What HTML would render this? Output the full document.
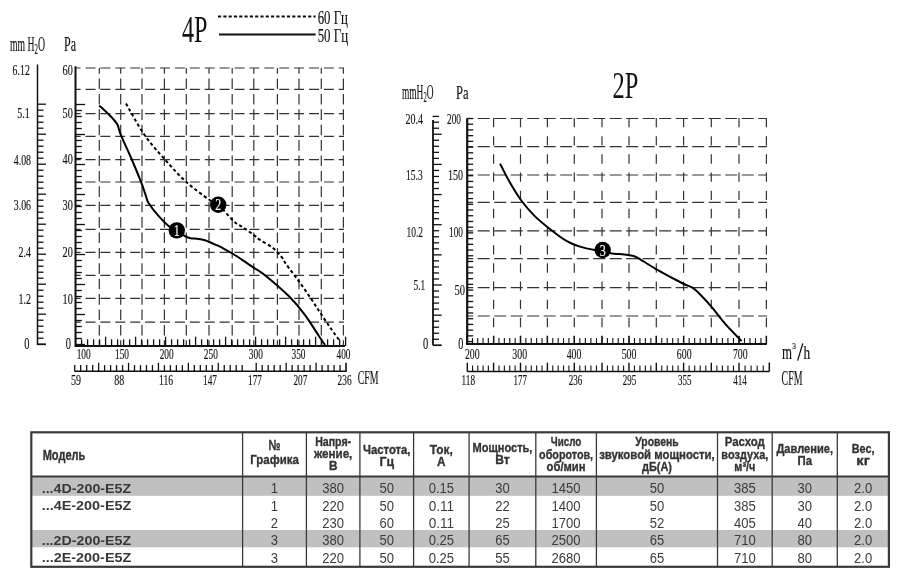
<!DOCTYPE html><html><head><meta charset="utf-8"><style>html,body{margin:0;padding:0;width:900px;height:572px;overflow:hidden;background:#fff}</style></head><body><svg width="900" height="572" viewBox="0 0 900 572" style="position:absolute;left:0;top:0;will-change:transform">
<rect width="900" height="572" fill="#fff"/>
<text x="182.00" y="41.80" font-family='"Liberation Serif", serif' font-weight="normal" font-size="38.07" fill="#111" textLength="25.50" lengthAdjust="spacingAndGlyphs">4P</text>
<line x1="218.00" y1="16.50" x2="315.60" y2="16.50" stroke="#111" stroke-width="1.8" stroke-dasharray="3.2 2.1" stroke-linecap="butt"/>
<line x1="219.00" y1="34.40" x2="315.60" y2="34.40" stroke="#111" stroke-width="2" stroke-linecap="butt"/>
<text x="317.70" y="23.60" font-family='"Liberation Serif", serif' font-weight="normal" font-size="18.13" fill="#111" textLength="30.30" lengthAdjust="spacingAndGlyphs" stroke="#111" stroke-width="0.15">60 Гц</text>
<text x="317.70" y="42.20" font-family='"Liberation Serif", serif' font-weight="normal" font-size="19.18" fill="#111" textLength="30.30" lengthAdjust="spacingAndGlyphs" stroke="#111" stroke-width="0.15">50 Гц</text>
<text x="10" y="50.5" font-family='"Liberation Serif", serif' font-size="20" fill="#111" textLength="35" lengthAdjust="spacingAndGlyphs" stroke="#111" stroke-width="0.15">mm H<tspan font-size="14" dy="3.5">2</tspan><tspan dy="-3.5">O</tspan></text>
<text x="64.00" y="50.50" font-family='"Liberation Serif", serif' font-weight="normal" font-size="20.39" fill="#111" textLength="12.00" lengthAdjust="spacingAndGlyphs" stroke="#111" stroke-width="0.15">Pa</text>
<line x1="75.50" y1="68.00" x2="344.00" y2="68.00" stroke="#333" stroke-width="1.2" stroke-dasharray="10 4.9" stroke-dashoffset="4.9" stroke-linecap="butt"/>
<line x1="75.50" y1="89.30" x2="344.00" y2="89.30" stroke="#333" stroke-width="1.2" stroke-dasharray="10 4.9" stroke-dashoffset="4.9" stroke-linecap="butt"/>
<line x1="75.50" y1="113.60" x2="344.00" y2="113.60" stroke="#333" stroke-width="1.2" stroke-dasharray="10 4.9" stroke-dashoffset="4.9" stroke-linecap="butt"/>
<line x1="75.50" y1="136.40" x2="344.00" y2="136.40" stroke="#333" stroke-width="1.2" stroke-dasharray="10 4.9" stroke-dashoffset="4.9" stroke-linecap="butt"/>
<line x1="75.50" y1="159.70" x2="344.00" y2="159.70" stroke="#333" stroke-width="1.2" stroke-dasharray="10 4.9" stroke-dashoffset="4.9" stroke-linecap="butt"/>
<line x1="75.50" y1="182.00" x2="344.00" y2="182.00" stroke="#333" stroke-width="1.2" stroke-dasharray="10 4.9" stroke-dashoffset="4.9" stroke-linecap="butt"/>
<line x1="75.50" y1="205.30" x2="344.00" y2="205.30" stroke="#333" stroke-width="1.2" stroke-dasharray="10 4.9" stroke-dashoffset="4.9" stroke-linecap="butt"/>
<line x1="75.50" y1="229.30" x2="344.00" y2="229.30" stroke="#333" stroke-width="1.2" stroke-dasharray="10 4.9" stroke-dashoffset="4.9" stroke-linecap="butt"/>
<line x1="75.50" y1="252.30" x2="344.00" y2="252.30" stroke="#333" stroke-width="1.2" stroke-dasharray="10 4.9" stroke-dashoffset="4.9" stroke-linecap="butt"/>
<line x1="75.50" y1="275.30" x2="344.00" y2="275.30" stroke="#333" stroke-width="1.2" stroke-dasharray="10 4.9" stroke-dashoffset="4.9" stroke-linecap="butt"/>
<line x1="75.50" y1="298.40" x2="344.00" y2="298.40" stroke="#333" stroke-width="1.2" stroke-dasharray="10 4.9" stroke-dashoffset="4.9" stroke-linecap="butt"/>
<line x1="75.50" y1="322.20" x2="344.00" y2="322.20" stroke="#333" stroke-width="1.2" stroke-dasharray="10 4.9" stroke-dashoffset="4.9" stroke-linecap="butt"/>
<line x1="99.30" y1="68.00" x2="99.30" y2="346.00" stroke="#333" stroke-width="1.2" stroke-dasharray="10.6 4.8" stroke-dashoffset="4.9" stroke-linecap="butt"/>
<line x1="120.70" y1="68.00" x2="120.70" y2="346.00" stroke="#333" stroke-width="1.2" stroke-dasharray="10.6 4.8" stroke-dashoffset="4.9" stroke-linecap="butt"/>
<line x1="142.00" y1="68.00" x2="142.00" y2="346.00" stroke="#333" stroke-width="1.2" stroke-dasharray="10.6 4.8" stroke-dashoffset="4.9" stroke-linecap="butt"/>
<line x1="164.40" y1="68.00" x2="164.40" y2="346.00" stroke="#333" stroke-width="1.2" stroke-dasharray="10.6 4.8" stroke-dashoffset="4.9" stroke-linecap="butt"/>
<line x1="186.30" y1="68.00" x2="186.30" y2="346.00" stroke="#333" stroke-width="1.2" stroke-dasharray="10.6 4.8" stroke-dashoffset="4.9" stroke-linecap="butt"/>
<line x1="209.00" y1="68.00" x2="209.00" y2="346.00" stroke="#333" stroke-width="1.2" stroke-dasharray="10.6 4.8" stroke-dashoffset="4.9" stroke-linecap="butt"/>
<line x1="232.20" y1="68.00" x2="232.20" y2="346.00" stroke="#333" stroke-width="1.2" stroke-dasharray="10.6 4.8" stroke-dashoffset="4.9" stroke-linecap="butt"/>
<line x1="253.80" y1="68.00" x2="253.80" y2="346.00" stroke="#333" stroke-width="1.2" stroke-dasharray="10.6 4.8" stroke-dashoffset="4.9" stroke-linecap="butt"/>
<line x1="277.40" y1="68.00" x2="277.40" y2="346.00" stroke="#333" stroke-width="1.2" stroke-dasharray="10.6 4.8" stroke-dashoffset="4.9" stroke-linecap="butt"/>
<line x1="299.00" y1="68.00" x2="299.00" y2="346.00" stroke="#333" stroke-width="1.2" stroke-dasharray="10.6 4.8" stroke-dashoffset="4.9" stroke-linecap="butt"/>
<line x1="321.30" y1="68.00" x2="321.30" y2="346.00" stroke="#333" stroke-width="1.2" stroke-dasharray="10.6 4.8" stroke-dashoffset="4.9" stroke-linecap="butt"/>
<line x1="343.40" y1="68.00" x2="343.40" y2="346.00" stroke="#333" stroke-width="1.2" stroke-dasharray="10.6 4.8" stroke-dashoffset="4.9" stroke-linecap="butt"/>
<line x1="75.50" y1="66.30" x2="75.50" y2="347.00" stroke="#111" stroke-width="2" stroke-linecap="butt"/>
<line x1="75.50" y1="104.50" x2="85.00" y2="104.50" stroke="#111" stroke-width="1.3" stroke-linecap="butt"/>
<line x1="75.50" y1="110.50" x2="81.80" y2="110.50" stroke="#111" stroke-width="1.3" stroke-linecap="butt"/>
<line x1="75.50" y1="116.50" x2="81.80" y2="116.50" stroke="#111" stroke-width="1.3" stroke-linecap="butt"/>
<line x1="75.50" y1="122.50" x2="81.80" y2="122.50" stroke="#111" stroke-width="1.3" stroke-linecap="butt"/>
<line x1="75.50" y1="128.50" x2="81.80" y2="128.50" stroke="#111" stroke-width="1.3" stroke-linecap="butt"/>
<line x1="75.50" y1="134.50" x2="85.00" y2="134.50" stroke="#111" stroke-width="1.3" stroke-linecap="butt"/>
<line x1="75.50" y1="140.50" x2="81.80" y2="140.50" stroke="#111" stroke-width="1.3" stroke-linecap="butt"/>
<line x1="75.50" y1="146.50" x2="81.80" y2="146.50" stroke="#111" stroke-width="1.3" stroke-linecap="butt"/>
<line x1="75.50" y1="152.50" x2="81.80" y2="152.50" stroke="#111" stroke-width="1.3" stroke-linecap="butt"/>
<line x1="75.50" y1="158.50" x2="81.80" y2="158.50" stroke="#111" stroke-width="1.3" stroke-linecap="butt"/>
<line x1="75.50" y1="164.50" x2="85.00" y2="164.50" stroke="#111" stroke-width="1.3" stroke-linecap="butt"/>
<line x1="75.50" y1="170.50" x2="81.80" y2="170.50" stroke="#111" stroke-width="1.3" stroke-linecap="butt"/>
<line x1="75.50" y1="176.50" x2="81.80" y2="176.50" stroke="#111" stroke-width="1.3" stroke-linecap="butt"/>
<line x1="75.50" y1="182.50" x2="81.80" y2="182.50" stroke="#111" stroke-width="1.3" stroke-linecap="butt"/>
<line x1="75.50" y1="188.50" x2="81.80" y2="188.50" stroke="#111" stroke-width="1.3" stroke-linecap="butt"/>
<line x1="75.50" y1="194.50" x2="85.00" y2="194.50" stroke="#111" stroke-width="1.3" stroke-linecap="butt"/>
<line x1="75.50" y1="200.50" x2="81.80" y2="200.50" stroke="#111" stroke-width="1.3" stroke-linecap="butt"/>
<line x1="75.50" y1="206.50" x2="81.80" y2="206.50" stroke="#111" stroke-width="1.3" stroke-linecap="butt"/>
<line x1="75.50" y1="212.50" x2="81.80" y2="212.50" stroke="#111" stroke-width="1.3" stroke-linecap="butt"/>
<line x1="75.50" y1="218.50" x2="81.80" y2="218.50" stroke="#111" stroke-width="1.3" stroke-linecap="butt"/>
<line x1="75.50" y1="224.50" x2="85.00" y2="224.50" stroke="#111" stroke-width="1.3" stroke-linecap="butt"/>
<line x1="75.50" y1="230.50" x2="81.80" y2="230.50" stroke="#111" stroke-width="1.3" stroke-linecap="butt"/>
<line x1="75.50" y1="236.50" x2="81.80" y2="236.50" stroke="#111" stroke-width="1.3" stroke-linecap="butt"/>
<line x1="75.50" y1="242.50" x2="81.80" y2="242.50" stroke="#111" stroke-width="1.3" stroke-linecap="butt"/>
<line x1="75.50" y1="248.50" x2="81.80" y2="248.50" stroke="#111" stroke-width="1.3" stroke-linecap="butt"/>
<line x1="75.50" y1="254.50" x2="85.00" y2="254.50" stroke="#111" stroke-width="1.3" stroke-linecap="butt"/>
<line x1="75.50" y1="260.50" x2="81.80" y2="260.50" stroke="#111" stroke-width="1.3" stroke-linecap="butt"/>
<line x1="75.50" y1="266.50" x2="81.80" y2="266.50" stroke="#111" stroke-width="1.3" stroke-linecap="butt"/>
<line x1="75.50" y1="272.50" x2="81.80" y2="272.50" stroke="#111" stroke-width="1.3" stroke-linecap="butt"/>
<line x1="75.50" y1="278.50" x2="81.80" y2="278.50" stroke="#111" stroke-width="1.3" stroke-linecap="butt"/>
<line x1="75.50" y1="284.50" x2="85.00" y2="284.50" stroke="#111" stroke-width="1.3" stroke-linecap="butt"/>
<line x1="75.50" y1="290.50" x2="81.80" y2="290.50" stroke="#111" stroke-width="1.3" stroke-linecap="butt"/>
<line x1="75.50" y1="296.50" x2="81.80" y2="296.50" stroke="#111" stroke-width="1.3" stroke-linecap="butt"/>
<line x1="75.50" y1="302.50" x2="81.80" y2="302.50" stroke="#111" stroke-width="1.3" stroke-linecap="butt"/>
<line x1="75.50" y1="308.50" x2="81.80" y2="308.50" stroke="#111" stroke-width="1.3" stroke-linecap="butt"/>
<line x1="75.50" y1="314.50" x2="85.00" y2="314.50" stroke="#111" stroke-width="1.3" stroke-linecap="butt"/>
<line x1="75.50" y1="320.50" x2="81.80" y2="320.50" stroke="#111" stroke-width="1.3" stroke-linecap="butt"/>
<line x1="75.50" y1="326.50" x2="81.80" y2="326.50" stroke="#111" stroke-width="1.3" stroke-linecap="butt"/>
<line x1="75.50" y1="332.50" x2="81.80" y2="332.50" stroke="#111" stroke-width="1.3" stroke-linecap="butt"/>
<line x1="75.50" y1="338.50" x2="81.80" y2="338.50" stroke="#111" stroke-width="1.3" stroke-linecap="butt"/>
<line x1="75.50" y1="344.50" x2="85.00" y2="344.50" stroke="#111" stroke-width="1.3" stroke-linecap="butt"/>
<line x1="37.50" y1="64.50" x2="37.50" y2="345.00" stroke="#111" stroke-width="1.5" stroke-linecap="butt"/>
<line x1="37.50" y1="104.20" x2="46.00" y2="104.20" stroke="#111" stroke-width="1.3" stroke-linecap="butt"/>
<line x1="37.50" y1="110.20" x2="43.50" y2="110.20" stroke="#111" stroke-width="1.3" stroke-linecap="butt"/>
<line x1="37.50" y1="116.20" x2="43.50" y2="116.20" stroke="#111" stroke-width="1.3" stroke-linecap="butt"/>
<line x1="37.50" y1="122.20" x2="43.50" y2="122.20" stroke="#111" stroke-width="1.3" stroke-linecap="butt"/>
<line x1="37.50" y1="128.20" x2="43.50" y2="128.20" stroke="#111" stroke-width="1.3" stroke-linecap="butt"/>
<line x1="37.50" y1="134.20" x2="46.00" y2="134.20" stroke="#111" stroke-width="1.3" stroke-linecap="butt"/>
<line x1="37.50" y1="140.20" x2="43.50" y2="140.20" stroke="#111" stroke-width="1.3" stroke-linecap="butt"/>
<line x1="37.50" y1="146.20" x2="43.50" y2="146.20" stroke="#111" stroke-width="1.3" stroke-linecap="butt"/>
<line x1="37.50" y1="152.20" x2="43.50" y2="152.20" stroke="#111" stroke-width="1.3" stroke-linecap="butt"/>
<line x1="37.50" y1="158.20" x2="43.50" y2="158.20" stroke="#111" stroke-width="1.3" stroke-linecap="butt"/>
<line x1="37.50" y1="164.20" x2="46.00" y2="164.20" stroke="#111" stroke-width="1.3" stroke-linecap="butt"/>
<line x1="37.50" y1="170.20" x2="43.50" y2="170.20" stroke="#111" stroke-width="1.3" stroke-linecap="butt"/>
<line x1="37.50" y1="176.20" x2="43.50" y2="176.20" stroke="#111" stroke-width="1.3" stroke-linecap="butt"/>
<line x1="37.50" y1="182.20" x2="43.50" y2="182.20" stroke="#111" stroke-width="1.3" stroke-linecap="butt"/>
<line x1="37.50" y1="188.20" x2="43.50" y2="188.20" stroke="#111" stroke-width="1.3" stroke-linecap="butt"/>
<line x1="37.50" y1="194.20" x2="46.00" y2="194.20" stroke="#111" stroke-width="1.3" stroke-linecap="butt"/>
<line x1="37.50" y1="200.20" x2="43.50" y2="200.20" stroke="#111" stroke-width="1.3" stroke-linecap="butt"/>
<line x1="37.50" y1="206.20" x2="43.50" y2="206.20" stroke="#111" stroke-width="1.3" stroke-linecap="butt"/>
<line x1="37.50" y1="212.20" x2="43.50" y2="212.20" stroke="#111" stroke-width="1.3" stroke-linecap="butt"/>
<line x1="37.50" y1="218.20" x2="43.50" y2="218.20" stroke="#111" stroke-width="1.3" stroke-linecap="butt"/>
<line x1="37.50" y1="224.20" x2="46.00" y2="224.20" stroke="#111" stroke-width="1.3" stroke-linecap="butt"/>
<line x1="37.50" y1="230.20" x2="43.50" y2="230.20" stroke="#111" stroke-width="1.3" stroke-linecap="butt"/>
<line x1="37.50" y1="236.20" x2="43.50" y2="236.20" stroke="#111" stroke-width="1.3" stroke-linecap="butt"/>
<line x1="37.50" y1="242.20" x2="43.50" y2="242.20" stroke="#111" stroke-width="1.3" stroke-linecap="butt"/>
<line x1="37.50" y1="248.20" x2="43.50" y2="248.20" stroke="#111" stroke-width="1.3" stroke-linecap="butt"/>
<line x1="37.50" y1="254.20" x2="46.00" y2="254.20" stroke="#111" stroke-width="1.3" stroke-linecap="butt"/>
<line x1="37.50" y1="260.20" x2="43.50" y2="260.20" stroke="#111" stroke-width="1.3" stroke-linecap="butt"/>
<line x1="37.50" y1="266.20" x2="43.50" y2="266.20" stroke="#111" stroke-width="1.3" stroke-linecap="butt"/>
<line x1="37.50" y1="272.20" x2="43.50" y2="272.20" stroke="#111" stroke-width="1.3" stroke-linecap="butt"/>
<line x1="37.50" y1="278.20" x2="43.50" y2="278.20" stroke="#111" stroke-width="1.3" stroke-linecap="butt"/>
<line x1="37.50" y1="284.20" x2="46.00" y2="284.20" stroke="#111" stroke-width="1.3" stroke-linecap="butt"/>
<line x1="37.50" y1="290.20" x2="43.50" y2="290.20" stroke="#111" stroke-width="1.3" stroke-linecap="butt"/>
<line x1="37.50" y1="296.20" x2="43.50" y2="296.20" stroke="#111" stroke-width="1.3" stroke-linecap="butt"/>
<line x1="37.50" y1="302.20" x2="43.50" y2="302.20" stroke="#111" stroke-width="1.3" stroke-linecap="butt"/>
<line x1="37.50" y1="308.20" x2="43.50" y2="308.20" stroke="#111" stroke-width="1.3" stroke-linecap="butt"/>
<line x1="37.50" y1="314.20" x2="46.00" y2="314.20" stroke="#111" stroke-width="1.3" stroke-linecap="butt"/>
<line x1="37.50" y1="320.20" x2="43.50" y2="320.20" stroke="#111" stroke-width="1.3" stroke-linecap="butt"/>
<line x1="37.50" y1="326.20" x2="43.50" y2="326.20" stroke="#111" stroke-width="1.3" stroke-linecap="butt"/>
<line x1="37.50" y1="332.20" x2="43.50" y2="332.20" stroke="#111" stroke-width="1.3" stroke-linecap="butt"/>
<line x1="37.50" y1="338.20" x2="43.50" y2="338.20" stroke="#111" stroke-width="1.3" stroke-linecap="butt"/>
<line x1="37.50" y1="344.20" x2="46.00" y2="344.20" stroke="#111" stroke-width="1.3" stroke-linecap="butt"/>
<line x1="37.50" y1="344.40" x2="45.70" y2="344.40" stroke="#111" stroke-width="1.5" stroke-linecap="butt"/>
<line x1="75.00" y1="346.00" x2="345.00" y2="346.00" stroke="#111" stroke-width="2" stroke-linecap="butt"/>
<line x1="75.60" y1="346.00" x2="75.60" y2="336.70" stroke="#111" stroke-width="1.3" stroke-linecap="butt"/>
<line x1="81.60" y1="346.00" x2="81.60" y2="339.30" stroke="#111" stroke-width="1.3" stroke-linecap="butt"/>
<line x1="87.60" y1="346.00" x2="87.60" y2="339.30" stroke="#111" stroke-width="1.3" stroke-linecap="butt"/>
<line x1="93.60" y1="346.00" x2="93.60" y2="339.30" stroke="#111" stroke-width="1.3" stroke-linecap="butt"/>
<line x1="99.60" y1="346.00" x2="99.60" y2="339.30" stroke="#111" stroke-width="1.3" stroke-linecap="butt"/>
<line x1="105.60" y1="346.00" x2="105.60" y2="336.70" stroke="#111" stroke-width="1.3" stroke-linecap="butt"/>
<line x1="111.60" y1="346.00" x2="111.60" y2="339.30" stroke="#111" stroke-width="1.3" stroke-linecap="butt"/>
<line x1="117.60" y1="346.00" x2="117.60" y2="339.30" stroke="#111" stroke-width="1.3" stroke-linecap="butt"/>
<line x1="123.60" y1="346.00" x2="123.60" y2="339.30" stroke="#111" stroke-width="1.3" stroke-linecap="butt"/>
<line x1="129.60" y1="346.00" x2="129.60" y2="339.30" stroke="#111" stroke-width="1.3" stroke-linecap="butt"/>
<line x1="135.60" y1="346.00" x2="135.60" y2="336.70" stroke="#111" stroke-width="1.3" stroke-linecap="butt"/>
<line x1="141.60" y1="346.00" x2="141.60" y2="339.30" stroke="#111" stroke-width="1.3" stroke-linecap="butt"/>
<line x1="147.60" y1="346.00" x2="147.60" y2="339.30" stroke="#111" stroke-width="1.3" stroke-linecap="butt"/>
<line x1="153.60" y1="346.00" x2="153.60" y2="339.30" stroke="#111" stroke-width="1.3" stroke-linecap="butt"/>
<line x1="159.60" y1="346.00" x2="159.60" y2="339.30" stroke="#111" stroke-width="1.3" stroke-linecap="butt"/>
<line x1="165.60" y1="346.00" x2="165.60" y2="336.70" stroke="#111" stroke-width="1.3" stroke-linecap="butt"/>
<line x1="171.60" y1="346.00" x2="171.60" y2="339.30" stroke="#111" stroke-width="1.3" stroke-linecap="butt"/>
<line x1="177.60" y1="346.00" x2="177.60" y2="339.30" stroke="#111" stroke-width="1.3" stroke-linecap="butt"/>
<line x1="183.60" y1="346.00" x2="183.60" y2="339.30" stroke="#111" stroke-width="1.3" stroke-linecap="butt"/>
<line x1="189.60" y1="346.00" x2="189.60" y2="339.30" stroke="#111" stroke-width="1.3" stroke-linecap="butt"/>
<line x1="195.60" y1="346.00" x2="195.60" y2="336.70" stroke="#111" stroke-width="1.3" stroke-linecap="butt"/>
<line x1="201.60" y1="346.00" x2="201.60" y2="339.30" stroke="#111" stroke-width="1.3" stroke-linecap="butt"/>
<line x1="207.60" y1="346.00" x2="207.60" y2="339.30" stroke="#111" stroke-width="1.3" stroke-linecap="butt"/>
<line x1="213.60" y1="346.00" x2="213.60" y2="339.30" stroke="#111" stroke-width="1.3" stroke-linecap="butt"/>
<line x1="219.60" y1="346.00" x2="219.60" y2="339.30" stroke="#111" stroke-width="1.3" stroke-linecap="butt"/>
<line x1="225.60" y1="346.00" x2="225.60" y2="336.70" stroke="#111" stroke-width="1.3" stroke-linecap="butt"/>
<line x1="231.60" y1="346.00" x2="231.60" y2="339.30" stroke="#111" stroke-width="1.3" stroke-linecap="butt"/>
<line x1="237.60" y1="346.00" x2="237.60" y2="339.30" stroke="#111" stroke-width="1.3" stroke-linecap="butt"/>
<line x1="243.60" y1="346.00" x2="243.60" y2="339.30" stroke="#111" stroke-width="1.3" stroke-linecap="butt"/>
<line x1="249.60" y1="346.00" x2="249.60" y2="339.30" stroke="#111" stroke-width="1.3" stroke-linecap="butt"/>
<line x1="255.60" y1="346.00" x2="255.60" y2="336.70" stroke="#111" stroke-width="1.3" stroke-linecap="butt"/>
<line x1="261.60" y1="346.00" x2="261.60" y2="339.30" stroke="#111" stroke-width="1.3" stroke-linecap="butt"/>
<line x1="267.60" y1="346.00" x2="267.60" y2="339.30" stroke="#111" stroke-width="1.3" stroke-linecap="butt"/>
<line x1="273.60" y1="346.00" x2="273.60" y2="339.30" stroke="#111" stroke-width="1.3" stroke-linecap="butt"/>
<line x1="279.60" y1="346.00" x2="279.60" y2="339.30" stroke="#111" stroke-width="1.3" stroke-linecap="butt"/>
<line x1="285.60" y1="346.00" x2="285.60" y2="336.70" stroke="#111" stroke-width="1.3" stroke-linecap="butt"/>
<line x1="291.60" y1="346.00" x2="291.60" y2="339.30" stroke="#111" stroke-width="1.3" stroke-linecap="butt"/>
<line x1="297.60" y1="346.00" x2="297.60" y2="339.30" stroke="#111" stroke-width="1.3" stroke-linecap="butt"/>
<line x1="303.60" y1="346.00" x2="303.60" y2="339.30" stroke="#111" stroke-width="1.3" stroke-linecap="butt"/>
<line x1="309.60" y1="346.00" x2="309.60" y2="339.30" stroke="#111" stroke-width="1.3" stroke-linecap="butt"/>
<line x1="315.60" y1="346.00" x2="315.60" y2="336.70" stroke="#111" stroke-width="1.3" stroke-linecap="butt"/>
<line x1="321.60" y1="346.00" x2="321.60" y2="339.30" stroke="#111" stroke-width="1.3" stroke-linecap="butt"/>
<line x1="327.60" y1="346.00" x2="327.60" y2="339.30" stroke="#111" stroke-width="1.3" stroke-linecap="butt"/>
<line x1="333.60" y1="346.00" x2="333.60" y2="339.30" stroke="#111" stroke-width="1.3" stroke-linecap="butt"/>
<line x1="339.60" y1="346.00" x2="339.60" y2="339.30" stroke="#111" stroke-width="1.3" stroke-linecap="butt"/>
<line x1="345.60" y1="346.00" x2="345.60" y2="336.70" stroke="#111" stroke-width="1.3" stroke-linecap="butt"/>
<line x1="74.50" y1="371.30" x2="346.70" y2="371.30" stroke="#111" stroke-width="1.6" stroke-linecap="butt"/>
<line x1="74.70" y1="371.30" x2="74.70" y2="365.10" stroke="#111" stroke-width="1.3" stroke-linecap="butt"/>
<line x1="80.68" y1="371.30" x2="80.68" y2="365.10" stroke="#111" stroke-width="1.3" stroke-linecap="butt"/>
<line x1="86.66" y1="371.30" x2="86.66" y2="365.10" stroke="#111" stroke-width="1.3" stroke-linecap="butt"/>
<line x1="92.65" y1="371.30" x2="92.65" y2="365.10" stroke="#111" stroke-width="1.3" stroke-linecap="butt"/>
<line x1="98.63" y1="371.30" x2="98.63" y2="362.80" stroke="#111" stroke-width="1.3" stroke-linecap="butt"/>
<line x1="104.61" y1="371.30" x2="104.61" y2="365.10" stroke="#111" stroke-width="1.3" stroke-linecap="butt"/>
<line x1="110.59" y1="371.30" x2="110.59" y2="365.10" stroke="#111" stroke-width="1.3" stroke-linecap="butt"/>
<line x1="116.57" y1="371.30" x2="116.57" y2="365.10" stroke="#111" stroke-width="1.3" stroke-linecap="butt"/>
<line x1="122.56" y1="371.30" x2="122.56" y2="365.10" stroke="#111" stroke-width="1.3" stroke-linecap="butt"/>
<line x1="128.54" y1="371.30" x2="128.54" y2="362.80" stroke="#111" stroke-width="1.3" stroke-linecap="butt"/>
<line x1="134.52" y1="371.30" x2="134.52" y2="365.10" stroke="#111" stroke-width="1.3" stroke-linecap="butt"/>
<line x1="140.50" y1="371.30" x2="140.50" y2="365.10" stroke="#111" stroke-width="1.3" stroke-linecap="butt"/>
<line x1="146.48" y1="371.30" x2="146.48" y2="365.10" stroke="#111" stroke-width="1.3" stroke-linecap="butt"/>
<line x1="152.47" y1="371.30" x2="152.47" y2="365.10" stroke="#111" stroke-width="1.3" stroke-linecap="butt"/>
<line x1="158.45" y1="371.30" x2="158.45" y2="362.80" stroke="#111" stroke-width="1.3" stroke-linecap="butt"/>
<line x1="164.43" y1="371.30" x2="164.43" y2="365.10" stroke="#111" stroke-width="1.3" stroke-linecap="butt"/>
<line x1="170.41" y1="371.30" x2="170.41" y2="365.10" stroke="#111" stroke-width="1.3" stroke-linecap="butt"/>
<line x1="176.39" y1="371.30" x2="176.39" y2="365.10" stroke="#111" stroke-width="1.3" stroke-linecap="butt"/>
<line x1="182.38" y1="371.30" x2="182.38" y2="365.10" stroke="#111" stroke-width="1.3" stroke-linecap="butt"/>
<line x1="188.36" y1="371.30" x2="188.36" y2="362.80" stroke="#111" stroke-width="1.3" stroke-linecap="butt"/>
<line x1="194.34" y1="371.30" x2="194.34" y2="365.10" stroke="#111" stroke-width="1.3" stroke-linecap="butt"/>
<line x1="200.32" y1="371.30" x2="200.32" y2="365.10" stroke="#111" stroke-width="1.3" stroke-linecap="butt"/>
<line x1="206.30" y1="371.30" x2="206.30" y2="365.10" stroke="#111" stroke-width="1.3" stroke-linecap="butt"/>
<line x1="212.29" y1="371.30" x2="212.29" y2="365.10" stroke="#111" stroke-width="1.3" stroke-linecap="butt"/>
<line x1="218.27" y1="371.30" x2="218.27" y2="362.80" stroke="#111" stroke-width="1.3" stroke-linecap="butt"/>
<line x1="224.25" y1="371.30" x2="224.25" y2="365.10" stroke="#111" stroke-width="1.3" stroke-linecap="butt"/>
<line x1="230.23" y1="371.30" x2="230.23" y2="365.10" stroke="#111" stroke-width="1.3" stroke-linecap="butt"/>
<line x1="236.21" y1="371.30" x2="236.21" y2="365.10" stroke="#111" stroke-width="1.3" stroke-linecap="butt"/>
<line x1="242.20" y1="371.30" x2="242.20" y2="365.10" stroke="#111" stroke-width="1.3" stroke-linecap="butt"/>
<line x1="256.20" y1="371.30" x2="256.20" y2="362.80" stroke="#111" stroke-width="1.3" stroke-linecap="butt"/>
<line x1="262.19" y1="371.30" x2="262.19" y2="365.10" stroke="#111" stroke-width="1.3" stroke-linecap="butt"/>
<line x1="268.18" y1="371.30" x2="268.18" y2="365.10" stroke="#111" stroke-width="1.3" stroke-linecap="butt"/>
<line x1="274.17" y1="371.30" x2="274.17" y2="365.10" stroke="#111" stroke-width="1.3" stroke-linecap="butt"/>
<line x1="280.16" y1="371.30" x2="280.16" y2="365.10" stroke="#111" stroke-width="1.3" stroke-linecap="butt"/>
<line x1="286.15" y1="371.30" x2="286.15" y2="362.80" stroke="#111" stroke-width="1.3" stroke-linecap="butt"/>
<line x1="292.14" y1="371.30" x2="292.14" y2="365.10" stroke="#111" stroke-width="1.3" stroke-linecap="butt"/>
<line x1="298.13" y1="371.30" x2="298.13" y2="365.10" stroke="#111" stroke-width="1.3" stroke-linecap="butt"/>
<line x1="304.12" y1="371.30" x2="304.12" y2="365.10" stroke="#111" stroke-width="1.3" stroke-linecap="butt"/>
<line x1="310.11" y1="371.30" x2="310.11" y2="365.10" stroke="#111" stroke-width="1.3" stroke-linecap="butt"/>
<line x1="316.10" y1="371.30" x2="316.10" y2="362.80" stroke="#111" stroke-width="1.3" stroke-linecap="butt"/>
<line x1="322.09" y1="371.30" x2="322.09" y2="365.10" stroke="#111" stroke-width="1.3" stroke-linecap="butt"/>
<line x1="328.08" y1="371.30" x2="328.08" y2="365.10" stroke="#111" stroke-width="1.3" stroke-linecap="butt"/>
<line x1="334.07" y1="371.30" x2="334.07" y2="365.10" stroke="#111" stroke-width="1.3" stroke-linecap="butt"/>
<line x1="340.06" y1="371.30" x2="340.06" y2="365.10" stroke="#111" stroke-width="1.3" stroke-linecap="butt"/>
<line x1="346.05" y1="371.30" x2="346.05" y2="362.80" stroke="#111" stroke-width="1.6" stroke-linecap="butt"/>
<text x="12.60" y="74.90" font-family='"Liberation Serif", serif' font-weight="normal" font-size="13.64" fill="#111" textLength="17.20" lengthAdjust="spacingAndGlyphs" stroke="#111" stroke-width="0.15">6.12</text>
<text x="17.30" y="118.20" font-family='"Liberation Serif", serif' font-weight="normal" font-size="13.64" fill="#111" textLength="12.50" lengthAdjust="spacingAndGlyphs" stroke="#111" stroke-width="0.15">5.1</text>
<text x="13.80" y="164.90" font-family='"Liberation Serif", serif' font-weight="normal" font-size="13.64" fill="#111" textLength="17.20" lengthAdjust="spacingAndGlyphs" stroke="#111" stroke-width="0.15">4.08</text>
<text x="13.80" y="210.00" font-family='"Liberation Serif", serif' font-weight="normal" font-size="13.64" fill="#111" textLength="17.20" lengthAdjust="spacingAndGlyphs" stroke="#111" stroke-width="0.15">3.06</text>
<text x="18.50" y="257.10" font-family='"Liberation Serif", serif' font-weight="normal" font-size="13.64" fill="#111" textLength="12.50" lengthAdjust="spacingAndGlyphs" stroke="#111" stroke-width="0.15">2.4</text>
<text x="18.50" y="303.80" font-family='"Liberation Serif", serif' font-weight="normal" font-size="13.64" fill="#111" textLength="12.50" lengthAdjust="spacingAndGlyphs" stroke="#111" stroke-width="0.15">1.2</text>
<text x="24.20" y="348.60" font-family='"Liberation Serif", serif' font-weight="normal" font-size="16.97" fill="#111" textLength="5.20" lengthAdjust="spacingAndGlyphs" stroke="#111" stroke-width="0.15">0</text>
<text x="62.60" y="75.10" font-family='"Liberation Serif", serif' font-weight="normal" font-size="13.64" fill="#111" textLength="10.20" lengthAdjust="spacingAndGlyphs" stroke="#111" stroke-width="0.15">60</text>
<text x="62.60" y="118.20" font-family='"Liberation Serif", serif' font-weight="normal" font-size="13.64" fill="#111" textLength="10.20" lengthAdjust="spacingAndGlyphs" stroke="#111" stroke-width="0.15">50</text>
<text x="62.60" y="164.20" font-family='"Liberation Serif", serif' font-weight="normal" font-size="13.64" fill="#111" textLength="10.20" lengthAdjust="spacingAndGlyphs" stroke="#111" stroke-width="0.15">40</text>
<text x="62.60" y="209.80" font-family='"Liberation Serif", serif' font-weight="normal" font-size="13.64" fill="#111" textLength="10.20" lengthAdjust="spacingAndGlyphs" stroke="#111" stroke-width="0.15">30</text>
<text x="62.60" y="256.50" font-family='"Liberation Serif", serif' font-weight="normal" font-size="13.64" fill="#111" textLength="10.20" lengthAdjust="spacingAndGlyphs" stroke="#111" stroke-width="0.15">20</text>
<text x="62.60" y="303.50" font-family='"Liberation Serif", serif' font-weight="normal" font-size="13.64" fill="#111" textLength="10.20" lengthAdjust="spacingAndGlyphs" stroke="#111" stroke-width="0.15">10</text>
<text x="65.80" y="348.80" font-family='"Liberation Serif", serif' font-weight="normal" font-size="16.97" fill="#111" textLength="5.20" lengthAdjust="spacingAndGlyphs" stroke="#111" stroke-width="0.15">0</text>
<text x="76.70" y="359.25" font-family='"Liberation Serif", serif' font-weight="normal" font-size="14.09" fill="#111" textLength="14.00" lengthAdjust="spacingAndGlyphs" stroke="#111" stroke-width="0.15">100</text>
<text x="115.00" y="359.25" font-family='"Liberation Serif", serif' font-weight="normal" font-size="14.09" fill="#111" textLength="14.00" lengthAdjust="spacingAndGlyphs" stroke="#111" stroke-width="0.15">150</text>
<text x="159.70" y="359.25" font-family='"Liberation Serif", serif' font-weight="normal" font-size="14.09" fill="#111" textLength="14.00" lengthAdjust="spacingAndGlyphs" stroke="#111" stroke-width="0.15">200</text>
<text x="203.80" y="359.25" font-family='"Liberation Serif", serif' font-weight="normal" font-size="14.09" fill="#111" textLength="14.00" lengthAdjust="spacingAndGlyphs" stroke="#111" stroke-width="0.15">250</text>
<text x="248.80" y="359.25" font-family='"Liberation Serif", serif' font-weight="normal" font-size="14.09" fill="#111" textLength="14.00" lengthAdjust="spacingAndGlyphs" stroke="#111" stroke-width="0.15">300</text>
<text x="291.50" y="359.25" font-family='"Liberation Serif", serif' font-weight="normal" font-size="14.09" fill="#111" textLength="14.00" lengthAdjust="spacingAndGlyphs" stroke="#111" stroke-width="0.15">350</text>
<text x="336.50" y="359.25" font-family='"Liberation Serif", serif' font-weight="normal" font-size="14.09" fill="#111" textLength="14.00" lengthAdjust="spacingAndGlyphs" stroke="#111" stroke-width="0.15">400</text>
<text x="71.00" y="385.00" font-family='"Liberation Serif", serif' font-weight="normal" font-size="14.55" fill="#111" textLength="10.00" lengthAdjust="spacingAndGlyphs" stroke="#111" stroke-width="0.15">59</text>
<text x="114.30" y="385.00" font-family='"Liberation Serif", serif' font-weight="normal" font-size="14.55" fill="#111" textLength="10.00" lengthAdjust="spacingAndGlyphs" stroke="#111" stroke-width="0.15">88</text>
<text x="159.00" y="385.00" font-family='"Liberation Serif", serif' font-weight="normal" font-size="14.55" fill="#111" textLength="14.00" lengthAdjust="spacingAndGlyphs" stroke="#111" stroke-width="0.15">116</text>
<text x="203.00" y="385.00" font-family='"Liberation Serif", serif' font-weight="normal" font-size="14.55" fill="#111" textLength="14.00" lengthAdjust="spacingAndGlyphs" stroke="#111" stroke-width="0.15">147</text>
<text x="248.00" y="385.00" font-family='"Liberation Serif", serif' font-weight="normal" font-size="14.55" fill="#111" textLength="14.00" lengthAdjust="spacingAndGlyphs" stroke="#111" stroke-width="0.15">177</text>
<text x="293.40" y="385.00" font-family='"Liberation Serif", serif' font-weight="normal" font-size="14.55" fill="#111" textLength="14.00" lengthAdjust="spacingAndGlyphs" stroke="#111" stroke-width="0.15">207</text>
<text x="337.60" y="385.00" font-family='"Liberation Serif", serif' font-weight="normal" font-size="14.55" fill="#111" textLength="14.00" lengthAdjust="spacingAndGlyphs" stroke="#111" stroke-width="0.15">236</text>
<text x="357.70" y="384.30" font-family='"Liberation Serif", serif' font-weight="normal" font-size="18.58" fill="#111" textLength="20.80" lengthAdjust="spacingAndGlyphs" stroke="#111" stroke-width="0.15">CFM</text>
<path d="M99.2,105.4 C100.9,107.0 106.6,112.1 109.6,115.2 C112.6,118.3 115.2,120.8 117.1,124.1 C119.0,127.4 118.3,128.8 120.8,134.8 C123.3,140.8 128.5,151.8 132.0,160.0 C135.5,168.2 139.4,177.6 141.7,183.7 C144.0,189.8 144.8,193.0 146.0,196.3 C147.2,199.6 146.6,200.0 148.7,203.3 C150.8,206.6 155.2,212.2 158.5,215.9 C161.8,219.6 165.3,223.3 168.3,225.7 C171.3,228.0 174.0,228.3 176.7,230.0 C179.3,231.7 181.9,234.3 184.2,235.7 C186.5,237.1 188.4,237.8 190.5,238.3 C192.6,238.8 194.7,238.5 196.8,238.7 C198.9,238.9 201.0,239.1 203.1,239.7 C205.2,240.2 207.1,241.1 209.4,242.0 C211.7,242.9 214.3,244.1 216.7,245.2 C219.1,246.3 221.4,247.4 224.0,248.8 C226.6,250.2 229.2,251.6 232.4,253.5 C235.6,255.4 239.4,258.0 242.9,260.4 C246.4,262.8 249.7,265.0 253.6,267.6 C257.5,270.2 260.3,271.4 266.2,276.2 C272.1,281.0 282.6,289.9 289.0,296.3 C295.4,302.7 299.8,308.1 304.7,314.7 C309.6,321.3 315.3,330.6 318.7,335.7 C322.1,340.8 323.9,343.4 325.0,345.0" fill="none" stroke="#000" stroke-width="2" stroke-linejoin="round"/>
<path d="M126.0,103.5 C129.1,108.7 137.8,125.4 144.4,134.8 C151.0,144.2 158.3,152.1 165.3,160.0 C172.3,167.9 179.0,175.4 186.3,182.0 C193.6,188.6 204.0,196.0 209.3,199.8 C214.6,203.6 214.2,201.2 218.2,204.7 C222.2,208.2 229.4,217.2 233.5,221.0 C237.6,224.8 239.6,225.0 242.9,227.3 C246.2,229.6 250.6,232.6 253.4,234.7 C256.2,236.8 256.7,237.7 260.0,239.9 C263.3,242.1 269.4,245.1 273.0,248.0 C276.6,250.9 279.5,254.5 281.7,257.2 C283.9,259.9 283.3,260.2 286.0,264.0 C288.7,267.8 293.7,274.2 297.7,279.7 C301.7,285.2 306.2,291.6 310.0,297.2 C313.8,302.8 316.9,307.8 320.4,313.0 C323.9,318.2 327.6,323.9 331.0,328.7 C334.4,333.5 338.9,339.8 340.5,342.0" fill="none" stroke="#000" stroke-width="2" stroke-linejoin="round" stroke-dasharray="3.2 2.6"/>
<circle cx="176.8" cy="230.4" r="8.2" fill="#000"/>
<text x="173.80" y="235.90" font-family='"Liberation Serif", serif' font-weight="normal" font-size="16.67" fill="#fff" textLength="6.00" lengthAdjust="spacingAndGlyphs" stroke="#fff" stroke-width="0.15">1</text>
<circle cx="218.2" cy="204.7" r="8.2" fill="#000"/>
<text x="215.20" y="210.20" font-family='"Liberation Serif", serif' font-weight="normal" font-size="16.67" fill="#fff" textLength="6.00" lengthAdjust="spacingAndGlyphs" stroke="#fff" stroke-width="0.15">2</text>
<text x="612.50" y="98.30" font-family='"Liberation Serif", serif' font-weight="normal" font-size="37.92" fill="#111" textLength="25.80" lengthAdjust="spacingAndGlyphs">2P</text>
<text x="402" y="98.5" font-family='"Liberation Serif", serif' font-size="20" fill="#111" textLength="31.5" lengthAdjust="spacingAndGlyphs" stroke="#111" stroke-width="0.15">mmH<tspan font-size="14" dy="3.5">2</tspan><tspan dy="-3.5">O</tspan></text>
<text x="456.00" y="98.50" font-family='"Liberation Serif", serif' font-weight="normal" font-size="19.64" fill="#111" textLength="12.50" lengthAdjust="spacingAndGlyphs" stroke="#111" stroke-width="0.15">Pa</text>
<line x1="467.20" y1="118.50" x2="767.00" y2="118.50" stroke="#333" stroke-width="1.2" stroke-dasharray="12 4.5" stroke-dashoffset="6" stroke-linecap="butt"/>
<line x1="467.20" y1="146.60" x2="767.00" y2="146.60" stroke="#333" stroke-width="1.2" stroke-dasharray="12 4.5" stroke-dashoffset="6" stroke-linecap="butt"/>
<line x1="467.20" y1="175.00" x2="767.00" y2="175.00" stroke="#333" stroke-width="1.2" stroke-dasharray="12 4.5" stroke-dashoffset="6" stroke-linecap="butt"/>
<line x1="467.20" y1="202.40" x2="767.00" y2="202.40" stroke="#333" stroke-width="1.2" stroke-dasharray="12 4.5" stroke-dashoffset="6" stroke-linecap="butt"/>
<line x1="467.20" y1="230.80" x2="767.00" y2="230.80" stroke="#333" stroke-width="1.2" stroke-dasharray="12 4.5" stroke-dashoffset="6" stroke-linecap="butt"/>
<line x1="467.20" y1="258.70" x2="767.00" y2="258.70" stroke="#333" stroke-width="1.2" stroke-dasharray="12 4.5" stroke-dashoffset="6" stroke-linecap="butt"/>
<line x1="467.20" y1="287.60" x2="767.00" y2="287.60" stroke="#333" stroke-width="1.2" stroke-dasharray="12 4.5" stroke-dashoffset="6" stroke-linecap="butt"/>
<line x1="467.20" y1="316.00" x2="767.00" y2="316.00" stroke="#333" stroke-width="1.2" stroke-dasharray="12 4.5" stroke-dashoffset="6" stroke-linecap="butt"/>
<line x1="493.60" y1="118.00" x2="493.60" y2="344.00" stroke="#333" stroke-width="1.2" stroke-dasharray="9.3 8.87" stroke-linecap="butt"/>
<line x1="520.50" y1="118.00" x2="520.50" y2="344.00" stroke="#333" stroke-width="1.2" stroke-dasharray="9.3 8.87" stroke-linecap="butt"/>
<line x1="547.40" y1="118.00" x2="547.40" y2="344.00" stroke="#333" stroke-width="1.2" stroke-dasharray="9.3 8.87" stroke-linecap="butt"/>
<line x1="574.30" y1="118.00" x2="574.30" y2="344.00" stroke="#333" stroke-width="1.2" stroke-dasharray="9.3 8.87" stroke-linecap="butt"/>
<line x1="602.00" y1="118.00" x2="602.00" y2="344.00" stroke="#333" stroke-width="1.2" stroke-dasharray="9.3 8.87" stroke-linecap="butt"/>
<line x1="629.00" y1="118.00" x2="629.00" y2="344.00" stroke="#333" stroke-width="1.2" stroke-dasharray="9.3 8.87" stroke-linecap="butt"/>
<line x1="656.30" y1="118.00" x2="656.30" y2="344.00" stroke="#333" stroke-width="1.2" stroke-dasharray="9.3 8.87" stroke-linecap="butt"/>
<line x1="683.60" y1="118.00" x2="683.60" y2="344.00" stroke="#333" stroke-width="1.2" stroke-dasharray="9.3 8.87" stroke-linecap="butt"/>
<line x1="711.30" y1="118.00" x2="711.30" y2="344.00" stroke="#333" stroke-width="1.2" stroke-dasharray="9.3 8.87" stroke-linecap="butt"/>
<line x1="739.00" y1="118.00" x2="739.00" y2="344.00" stroke="#333" stroke-width="1.2" stroke-dasharray="9.3 8.87" stroke-linecap="butt"/>
<line x1="766.40" y1="118.00" x2="766.40" y2="344.00" stroke="#333" stroke-width="1.2" stroke-dasharray="9.3 8.87" stroke-linecap="butt"/>
<line x1="467.20" y1="118.30" x2="467.20" y2="345.00" stroke="#111" stroke-width="2.2" stroke-linecap="butt"/>
<line x1="467.20" y1="118.50" x2="473.20" y2="118.50" stroke="#111" stroke-width="1.3" stroke-linecap="butt"/>
<line x1="467.20" y1="124.22" x2="473.20" y2="124.22" stroke="#111" stroke-width="1.3" stroke-linecap="butt"/>
<line x1="467.20" y1="129.94" x2="473.20" y2="129.94" stroke="#111" stroke-width="1.3" stroke-linecap="butt"/>
<line x1="467.20" y1="135.66" x2="473.20" y2="135.66" stroke="#111" stroke-width="1.3" stroke-linecap="butt"/>
<line x1="467.20" y1="141.38" x2="473.20" y2="141.38" stroke="#111" stroke-width="1.3" stroke-linecap="butt"/>
<line x1="467.20" y1="147.10" x2="473.20" y2="147.10" stroke="#111" stroke-width="1.3" stroke-linecap="butt"/>
<line x1="467.20" y1="152.82" x2="473.20" y2="152.82" stroke="#111" stroke-width="1.3" stroke-linecap="butt"/>
<line x1="467.20" y1="158.54" x2="473.20" y2="158.54" stroke="#111" stroke-width="1.3" stroke-linecap="butt"/>
<line x1="467.20" y1="164.26" x2="473.20" y2="164.26" stroke="#111" stroke-width="1.3" stroke-linecap="butt"/>
<line x1="467.20" y1="169.98" x2="473.20" y2="169.98" stroke="#111" stroke-width="1.3" stroke-linecap="butt"/>
<line x1="467.20" y1="175.70" x2="473.20" y2="175.70" stroke="#111" stroke-width="1.3" stroke-linecap="butt"/>
<line x1="467.20" y1="181.42" x2="473.20" y2="181.42" stroke="#111" stroke-width="1.3" stroke-linecap="butt"/>
<line x1="467.20" y1="187.14" x2="473.20" y2="187.14" stroke="#111" stroke-width="1.3" stroke-linecap="butt"/>
<line x1="467.20" y1="192.86" x2="473.20" y2="192.86" stroke="#111" stroke-width="1.3" stroke-linecap="butt"/>
<line x1="467.20" y1="198.58" x2="473.20" y2="198.58" stroke="#111" stroke-width="1.3" stroke-linecap="butt"/>
<line x1="467.20" y1="204.30" x2="473.20" y2="204.30" stroke="#111" stroke-width="1.3" stroke-linecap="butt"/>
<line x1="467.20" y1="210.02" x2="473.20" y2="210.02" stroke="#111" stroke-width="1.3" stroke-linecap="butt"/>
<line x1="467.20" y1="215.74" x2="473.20" y2="215.74" stroke="#111" stroke-width="1.3" stroke-linecap="butt"/>
<line x1="467.20" y1="221.46" x2="473.20" y2="221.46" stroke="#111" stroke-width="1.3" stroke-linecap="butt"/>
<line x1="467.20" y1="227.18" x2="473.20" y2="227.18" stroke="#111" stroke-width="1.3" stroke-linecap="butt"/>
<line x1="467.20" y1="232.90" x2="473.20" y2="232.90" stroke="#111" stroke-width="1.3" stroke-linecap="butt"/>
<line x1="467.20" y1="238.62" x2="473.20" y2="238.62" stroke="#111" stroke-width="1.3" stroke-linecap="butt"/>
<line x1="467.20" y1="244.34" x2="473.20" y2="244.34" stroke="#111" stroke-width="1.3" stroke-linecap="butt"/>
<line x1="467.20" y1="250.06" x2="473.20" y2="250.06" stroke="#111" stroke-width="1.3" stroke-linecap="butt"/>
<line x1="467.20" y1="255.78" x2="473.20" y2="255.78" stroke="#111" stroke-width="1.3" stroke-linecap="butt"/>
<line x1="467.20" y1="261.50" x2="473.20" y2="261.50" stroke="#111" stroke-width="1.3" stroke-linecap="butt"/>
<line x1="467.20" y1="267.22" x2="473.20" y2="267.22" stroke="#111" stroke-width="1.3" stroke-linecap="butt"/>
<line x1="467.20" y1="272.94" x2="473.20" y2="272.94" stroke="#111" stroke-width="1.3" stroke-linecap="butt"/>
<line x1="467.20" y1="278.66" x2="473.20" y2="278.66" stroke="#111" stroke-width="1.3" stroke-linecap="butt"/>
<line x1="467.20" y1="284.38" x2="473.20" y2="284.38" stroke="#111" stroke-width="1.3" stroke-linecap="butt"/>
<line x1="467.20" y1="290.10" x2="473.20" y2="290.10" stroke="#111" stroke-width="1.3" stroke-linecap="butt"/>
<line x1="467.20" y1="295.82" x2="473.20" y2="295.82" stroke="#111" stroke-width="1.3" stroke-linecap="butt"/>
<line x1="467.20" y1="301.54" x2="473.20" y2="301.54" stroke="#111" stroke-width="1.3" stroke-linecap="butt"/>
<line x1="467.20" y1="307.26" x2="473.20" y2="307.26" stroke="#111" stroke-width="1.3" stroke-linecap="butt"/>
<line x1="467.20" y1="312.98" x2="473.20" y2="312.98" stroke="#111" stroke-width="1.3" stroke-linecap="butt"/>
<line x1="467.20" y1="318.70" x2="473.20" y2="318.70" stroke="#111" stroke-width="1.3" stroke-linecap="butt"/>
<line x1="467.20" y1="324.42" x2="473.20" y2="324.42" stroke="#111" stroke-width="1.3" stroke-linecap="butt"/>
<line x1="467.20" y1="330.14" x2="473.20" y2="330.14" stroke="#111" stroke-width="1.3" stroke-linecap="butt"/>
<line x1="467.20" y1="335.86" x2="473.20" y2="335.86" stroke="#111" stroke-width="1.3" stroke-linecap="butt"/>
<line x1="467.20" y1="341.58" x2="473.20" y2="341.58" stroke="#111" stroke-width="1.3" stroke-linecap="butt"/>
<line x1="433.00" y1="120.00" x2="433.00" y2="345.30" stroke="#111" stroke-width="1.8" stroke-linecap="butt"/>
<line x1="432.50" y1="116.40" x2="439.00" y2="116.40" stroke="#111" stroke-width="1.3" stroke-linecap="butt"/>
<line x1="433.00" y1="122.20" x2="439.00" y2="122.20" stroke="#111" stroke-width="1.3" stroke-linecap="butt"/>
<line x1="433.00" y1="128.23" x2="439.00" y2="128.23" stroke="#111" stroke-width="1.3" stroke-linecap="butt"/>
<line x1="433.00" y1="134.26" x2="441.70" y2="134.26" stroke="#111" stroke-width="1.3" stroke-linecap="butt"/>
<line x1="433.00" y1="140.29" x2="439.00" y2="140.29" stroke="#111" stroke-width="1.3" stroke-linecap="butt"/>
<line x1="433.00" y1="146.32" x2="439.00" y2="146.32" stroke="#111" stroke-width="1.3" stroke-linecap="butt"/>
<line x1="433.00" y1="152.35" x2="439.00" y2="152.35" stroke="#111" stroke-width="1.3" stroke-linecap="butt"/>
<line x1="433.00" y1="158.38" x2="439.00" y2="158.38" stroke="#111" stroke-width="1.3" stroke-linecap="butt"/>
<line x1="433.00" y1="164.41" x2="441.70" y2="164.41" stroke="#111" stroke-width="1.3" stroke-linecap="butt"/>
<line x1="433.00" y1="170.44" x2="439.00" y2="170.44" stroke="#111" stroke-width="1.3" stroke-linecap="butt"/>
<line x1="433.00" y1="176.47" x2="439.00" y2="176.47" stroke="#111" stroke-width="1.3" stroke-linecap="butt"/>
<line x1="433.00" y1="182.50" x2="439.00" y2="182.50" stroke="#111" stroke-width="1.3" stroke-linecap="butt"/>
<line x1="433.00" y1="188.53" x2="439.00" y2="188.53" stroke="#111" stroke-width="1.3" stroke-linecap="butt"/>
<line x1="433.00" y1="194.56" x2="441.70" y2="194.56" stroke="#111" stroke-width="1.3" stroke-linecap="butt"/>
<line x1="433.00" y1="200.59" x2="439.00" y2="200.59" stroke="#111" stroke-width="1.3" stroke-linecap="butt"/>
<line x1="433.00" y1="206.62" x2="439.00" y2="206.62" stroke="#111" stroke-width="1.3" stroke-linecap="butt"/>
<line x1="433.00" y1="212.65" x2="439.00" y2="212.65" stroke="#111" stroke-width="1.3" stroke-linecap="butt"/>
<line x1="433.00" y1="218.68" x2="439.00" y2="218.68" stroke="#111" stroke-width="1.3" stroke-linecap="butt"/>
<line x1="433.00" y1="224.71" x2="441.70" y2="224.71" stroke="#111" stroke-width="1.3" stroke-linecap="butt"/>
<line x1="433.00" y1="230.74" x2="439.00" y2="230.74" stroke="#111" stroke-width="1.3" stroke-linecap="butt"/>
<line x1="433.00" y1="236.77" x2="439.00" y2="236.77" stroke="#111" stroke-width="1.3" stroke-linecap="butt"/>
<line x1="433.00" y1="242.80" x2="439.00" y2="242.80" stroke="#111" stroke-width="1.3" stroke-linecap="butt"/>
<line x1="433.00" y1="248.83" x2="439.00" y2="248.83" stroke="#111" stroke-width="1.3" stroke-linecap="butt"/>
<line x1="433.00" y1="254.86" x2="441.70" y2="254.86" stroke="#111" stroke-width="1.3" stroke-linecap="butt"/>
<line x1="433.00" y1="260.89" x2="439.00" y2="260.89" stroke="#111" stroke-width="1.3" stroke-linecap="butt"/>
<line x1="433.00" y1="266.92" x2="439.00" y2="266.92" stroke="#111" stroke-width="1.3" stroke-linecap="butt"/>
<line x1="433.00" y1="272.95" x2="439.00" y2="272.95" stroke="#111" stroke-width="1.3" stroke-linecap="butt"/>
<line x1="433.00" y1="278.98" x2="439.00" y2="278.98" stroke="#111" stroke-width="1.3" stroke-linecap="butt"/>
<line x1="433.00" y1="285.01" x2="441.70" y2="285.01" stroke="#111" stroke-width="1.3" stroke-linecap="butt"/>
<line x1="433.00" y1="291.04" x2="439.00" y2="291.04" stroke="#111" stroke-width="1.3" stroke-linecap="butt"/>
<line x1="433.00" y1="297.07" x2="439.00" y2="297.07" stroke="#111" stroke-width="1.3" stroke-linecap="butt"/>
<line x1="433.00" y1="303.10" x2="439.00" y2="303.10" stroke="#111" stroke-width="1.3" stroke-linecap="butt"/>
<line x1="433.00" y1="309.13" x2="439.00" y2="309.13" stroke="#111" stroke-width="1.3" stroke-linecap="butt"/>
<line x1="433.00" y1="315.16" x2="441.70" y2="315.16" stroke="#111" stroke-width="1.3" stroke-linecap="butt"/>
<line x1="433.00" y1="321.19" x2="439.00" y2="321.19" stroke="#111" stroke-width="1.3" stroke-linecap="butt"/>
<line x1="433.00" y1="327.22" x2="439.00" y2="327.22" stroke="#111" stroke-width="1.3" stroke-linecap="butt"/>
<line x1="433.00" y1="333.25" x2="439.00" y2="333.25" stroke="#111" stroke-width="1.3" stroke-linecap="butt"/>
<line x1="433.00" y1="339.28" x2="439.00" y2="339.28" stroke="#111" stroke-width="1.3" stroke-linecap="butt"/>
<line x1="433.00" y1="345.31" x2="441.70" y2="345.31" stroke="#111" stroke-width="1.3" stroke-linecap="butt"/>
<line x1="433.00" y1="345.30" x2="441.40" y2="345.30" stroke="#111" stroke-width="1.5" stroke-linecap="butt"/>
<line x1="466.20" y1="344.00" x2="766.80" y2="344.00" stroke="#111" stroke-width="2" stroke-linecap="butt"/>
<line x1="467.20" y1="344.00" x2="467.20" y2="335.70" stroke="#111" stroke-width="1.4" stroke-linecap="butt"/>
<line x1="472.48" y1="344.00" x2="472.48" y2="338.00" stroke="#111" stroke-width="1.1" stroke-linecap="butt"/>
<line x1="477.76" y1="344.00" x2="477.76" y2="338.00" stroke="#111" stroke-width="1.1" stroke-linecap="butt"/>
<line x1="483.04" y1="344.00" x2="483.04" y2="338.00" stroke="#111" stroke-width="1.1" stroke-linecap="butt"/>
<line x1="488.32" y1="344.00" x2="488.32" y2="338.00" stroke="#111" stroke-width="1.1" stroke-linecap="butt"/>
<line x1="493.60" y1="344.00" x2="493.60" y2="335.70" stroke="#111" stroke-width="1.4" stroke-linecap="butt"/>
<line x1="498.98" y1="344.00" x2="498.98" y2="338.00" stroke="#111" stroke-width="1.1" stroke-linecap="butt"/>
<line x1="504.36" y1="344.00" x2="504.36" y2="338.00" stroke="#111" stroke-width="1.1" stroke-linecap="butt"/>
<line x1="509.74" y1="344.00" x2="509.74" y2="338.00" stroke="#111" stroke-width="1.1" stroke-linecap="butt"/>
<line x1="515.12" y1="344.00" x2="515.12" y2="338.00" stroke="#111" stroke-width="1.1" stroke-linecap="butt"/>
<line x1="520.50" y1="344.00" x2="520.50" y2="335.70" stroke="#111" stroke-width="1.4" stroke-linecap="butt"/>
<line x1="525.88" y1="344.00" x2="525.88" y2="338.00" stroke="#111" stroke-width="1.1" stroke-linecap="butt"/>
<line x1="531.26" y1="344.00" x2="531.26" y2="338.00" stroke="#111" stroke-width="1.1" stroke-linecap="butt"/>
<line x1="536.64" y1="344.00" x2="536.64" y2="338.00" stroke="#111" stroke-width="1.1" stroke-linecap="butt"/>
<line x1="542.02" y1="344.00" x2="542.02" y2="338.00" stroke="#111" stroke-width="1.1" stroke-linecap="butt"/>
<line x1="547.40" y1="344.00" x2="547.40" y2="335.70" stroke="#111" stroke-width="1.4" stroke-linecap="butt"/>
<line x1="552.78" y1="344.00" x2="552.78" y2="338.00" stroke="#111" stroke-width="1.1" stroke-linecap="butt"/>
<line x1="558.16" y1="344.00" x2="558.16" y2="338.00" stroke="#111" stroke-width="1.1" stroke-linecap="butt"/>
<line x1="563.54" y1="344.00" x2="563.54" y2="338.00" stroke="#111" stroke-width="1.1" stroke-linecap="butt"/>
<line x1="568.92" y1="344.00" x2="568.92" y2="338.00" stroke="#111" stroke-width="1.1" stroke-linecap="butt"/>
<line x1="574.30" y1="344.00" x2="574.30" y2="335.70" stroke="#111" stroke-width="1.4" stroke-linecap="butt"/>
<line x1="579.84" y1="344.00" x2="579.84" y2="338.00" stroke="#111" stroke-width="1.1" stroke-linecap="butt"/>
<line x1="585.38" y1="344.00" x2="585.38" y2="338.00" stroke="#111" stroke-width="1.1" stroke-linecap="butt"/>
<line x1="590.92" y1="344.00" x2="590.92" y2="338.00" stroke="#111" stroke-width="1.1" stroke-linecap="butt"/>
<line x1="596.46" y1="344.00" x2="596.46" y2="338.00" stroke="#111" stroke-width="1.1" stroke-linecap="butt"/>
<line x1="602.00" y1="344.00" x2="602.00" y2="335.70" stroke="#111" stroke-width="1.4" stroke-linecap="butt"/>
<line x1="607.40" y1="344.00" x2="607.40" y2="338.00" stroke="#111" stroke-width="1.1" stroke-linecap="butt"/>
<line x1="612.80" y1="344.00" x2="612.80" y2="338.00" stroke="#111" stroke-width="1.1" stroke-linecap="butt"/>
<line x1="618.20" y1="344.00" x2="618.20" y2="338.00" stroke="#111" stroke-width="1.1" stroke-linecap="butt"/>
<line x1="623.60" y1="344.00" x2="623.60" y2="338.00" stroke="#111" stroke-width="1.1" stroke-linecap="butt"/>
<line x1="629.00" y1="344.00" x2="629.00" y2="335.70" stroke="#111" stroke-width="1.4" stroke-linecap="butt"/>
<line x1="634.46" y1="344.00" x2="634.46" y2="338.00" stroke="#111" stroke-width="1.1" stroke-linecap="butt"/>
<line x1="639.92" y1="344.00" x2="639.92" y2="338.00" stroke="#111" stroke-width="1.1" stroke-linecap="butt"/>
<line x1="645.38" y1="344.00" x2="645.38" y2="338.00" stroke="#111" stroke-width="1.1" stroke-linecap="butt"/>
<line x1="650.84" y1="344.00" x2="650.84" y2="338.00" stroke="#111" stroke-width="1.1" stroke-linecap="butt"/>
<line x1="656.30" y1="344.00" x2="656.30" y2="335.70" stroke="#111" stroke-width="1.4" stroke-linecap="butt"/>
<line x1="661.76" y1="344.00" x2="661.76" y2="338.00" stroke="#111" stroke-width="1.1" stroke-linecap="butt"/>
<line x1="667.22" y1="344.00" x2="667.22" y2="338.00" stroke="#111" stroke-width="1.1" stroke-linecap="butt"/>
<line x1="672.68" y1="344.00" x2="672.68" y2="338.00" stroke="#111" stroke-width="1.1" stroke-linecap="butt"/>
<line x1="678.14" y1="344.00" x2="678.14" y2="338.00" stroke="#111" stroke-width="1.1" stroke-linecap="butt"/>
<line x1="683.60" y1="344.00" x2="683.60" y2="335.70" stroke="#111" stroke-width="1.4" stroke-linecap="butt"/>
<line x1="689.14" y1="344.00" x2="689.14" y2="338.00" stroke="#111" stroke-width="1.1" stroke-linecap="butt"/>
<line x1="694.68" y1="344.00" x2="694.68" y2="338.00" stroke="#111" stroke-width="1.1" stroke-linecap="butt"/>
<line x1="700.22" y1="344.00" x2="700.22" y2="338.00" stroke="#111" stroke-width="1.1" stroke-linecap="butt"/>
<line x1="705.76" y1="344.00" x2="705.76" y2="338.00" stroke="#111" stroke-width="1.1" stroke-linecap="butt"/>
<line x1="711.30" y1="344.00" x2="711.30" y2="335.70" stroke="#111" stroke-width="1.4" stroke-linecap="butt"/>
<line x1="716.84" y1="344.00" x2="716.84" y2="338.00" stroke="#111" stroke-width="1.1" stroke-linecap="butt"/>
<line x1="722.38" y1="344.00" x2="722.38" y2="338.00" stroke="#111" stroke-width="1.1" stroke-linecap="butt"/>
<line x1="727.92" y1="344.00" x2="727.92" y2="338.00" stroke="#111" stroke-width="1.1" stroke-linecap="butt"/>
<line x1="733.46" y1="344.00" x2="733.46" y2="338.00" stroke="#111" stroke-width="1.1" stroke-linecap="butt"/>
<line x1="739.00" y1="344.00" x2="739.00" y2="335.70" stroke="#111" stroke-width="1.4" stroke-linecap="butt"/>
<line x1="744.48" y1="344.00" x2="744.48" y2="338.00" stroke="#111" stroke-width="1.1" stroke-linecap="butt"/>
<line x1="749.96" y1="344.00" x2="749.96" y2="338.00" stroke="#111" stroke-width="1.1" stroke-linecap="butt"/>
<line x1="755.44" y1="344.00" x2="755.44" y2="338.00" stroke="#111" stroke-width="1.1" stroke-linecap="butt"/>
<line x1="760.92" y1="344.00" x2="760.92" y2="338.00" stroke="#111" stroke-width="1.1" stroke-linecap="butt"/>
<line x1="766.40" y1="344.00" x2="766.40" y2="335.70" stroke="#111" stroke-width="1.4" stroke-linecap="butt"/>
<line x1="467.30" y1="371.50" x2="769.30" y2="371.50" stroke="#111" stroke-width="1.6" stroke-linecap="butt"/>
<line x1="467.30" y1="371.50" x2="467.30" y2="362.70" stroke="#111" stroke-width="1.4" stroke-linecap="butt"/>
<line x1="472.56" y1="371.50" x2="472.56" y2="365.50" stroke="#111" stroke-width="1.1" stroke-linecap="butt"/>
<line x1="477.82" y1="371.50" x2="477.82" y2="365.50" stroke="#111" stroke-width="1.1" stroke-linecap="butt"/>
<line x1="483.08" y1="371.50" x2="483.08" y2="365.50" stroke="#111" stroke-width="1.1" stroke-linecap="butt"/>
<line x1="488.34" y1="371.50" x2="488.34" y2="365.50" stroke="#111" stroke-width="1.1" stroke-linecap="butt"/>
<line x1="493.60" y1="371.50" x2="493.60" y2="362.70" stroke="#111" stroke-width="1.4" stroke-linecap="butt"/>
<line x1="498.98" y1="371.50" x2="498.98" y2="365.50" stroke="#111" stroke-width="1.1" stroke-linecap="butt"/>
<line x1="504.36" y1="371.50" x2="504.36" y2="365.50" stroke="#111" stroke-width="1.1" stroke-linecap="butt"/>
<line x1="509.74" y1="371.50" x2="509.74" y2="365.50" stroke="#111" stroke-width="1.1" stroke-linecap="butt"/>
<line x1="515.12" y1="371.50" x2="515.12" y2="365.50" stroke="#111" stroke-width="1.1" stroke-linecap="butt"/>
<line x1="520.50" y1="371.50" x2="520.50" y2="362.70" stroke="#111" stroke-width="1.4" stroke-linecap="butt"/>
<line x1="525.88" y1="371.50" x2="525.88" y2="365.50" stroke="#111" stroke-width="1.1" stroke-linecap="butt"/>
<line x1="531.26" y1="371.50" x2="531.26" y2="365.50" stroke="#111" stroke-width="1.1" stroke-linecap="butt"/>
<line x1="536.64" y1="371.50" x2="536.64" y2="365.50" stroke="#111" stroke-width="1.1" stroke-linecap="butt"/>
<line x1="542.02" y1="371.50" x2="542.02" y2="365.50" stroke="#111" stroke-width="1.1" stroke-linecap="butt"/>
<line x1="547.40" y1="371.50" x2="547.40" y2="362.70" stroke="#111" stroke-width="1.4" stroke-linecap="butt"/>
<line x1="552.78" y1="371.50" x2="552.78" y2="365.50" stroke="#111" stroke-width="1.1" stroke-linecap="butt"/>
<line x1="558.16" y1="371.50" x2="558.16" y2="365.50" stroke="#111" stroke-width="1.1" stroke-linecap="butt"/>
<line x1="563.54" y1="371.50" x2="563.54" y2="365.50" stroke="#111" stroke-width="1.1" stroke-linecap="butt"/>
<line x1="568.92" y1="371.50" x2="568.92" y2="365.50" stroke="#111" stroke-width="1.1" stroke-linecap="butt"/>
<line x1="574.30" y1="371.50" x2="574.30" y2="362.70" stroke="#111" stroke-width="1.4" stroke-linecap="butt"/>
<line x1="579.84" y1="371.50" x2="579.84" y2="365.50" stroke="#111" stroke-width="1.1" stroke-linecap="butt"/>
<line x1="585.38" y1="371.50" x2="585.38" y2="365.50" stroke="#111" stroke-width="1.1" stroke-linecap="butt"/>
<line x1="590.92" y1="371.50" x2="590.92" y2="365.50" stroke="#111" stroke-width="1.1" stroke-linecap="butt"/>
<line x1="596.46" y1="371.50" x2="596.46" y2="365.50" stroke="#111" stroke-width="1.1" stroke-linecap="butt"/>
<line x1="602.00" y1="371.50" x2="602.00" y2="362.70" stroke="#111" stroke-width="1.4" stroke-linecap="butt"/>
<line x1="607.40" y1="371.50" x2="607.40" y2="365.50" stroke="#111" stroke-width="1.1" stroke-linecap="butt"/>
<line x1="612.80" y1="371.50" x2="612.80" y2="365.50" stroke="#111" stroke-width="1.1" stroke-linecap="butt"/>
<line x1="618.20" y1="371.50" x2="618.20" y2="365.50" stroke="#111" stroke-width="1.1" stroke-linecap="butt"/>
<line x1="623.60" y1="371.50" x2="623.60" y2="365.50" stroke="#111" stroke-width="1.1" stroke-linecap="butt"/>
<line x1="629.00" y1="371.50" x2="629.00" y2="362.70" stroke="#111" stroke-width="1.4" stroke-linecap="butt"/>
<line x1="634.46" y1="371.50" x2="634.46" y2="365.50" stroke="#111" stroke-width="1.1" stroke-linecap="butt"/>
<line x1="639.92" y1="371.50" x2="639.92" y2="365.50" stroke="#111" stroke-width="1.1" stroke-linecap="butt"/>
<line x1="645.38" y1="371.50" x2="645.38" y2="365.50" stroke="#111" stroke-width="1.1" stroke-linecap="butt"/>
<line x1="650.84" y1="371.50" x2="650.84" y2="365.50" stroke="#111" stroke-width="1.1" stroke-linecap="butt"/>
<line x1="656.30" y1="371.50" x2="656.30" y2="362.70" stroke="#111" stroke-width="1.4" stroke-linecap="butt"/>
<line x1="661.76" y1="371.50" x2="661.76" y2="365.50" stroke="#111" stroke-width="1.1" stroke-linecap="butt"/>
<line x1="667.22" y1="371.50" x2="667.22" y2="365.50" stroke="#111" stroke-width="1.1" stroke-linecap="butt"/>
<line x1="672.68" y1="371.50" x2="672.68" y2="365.50" stroke="#111" stroke-width="1.1" stroke-linecap="butt"/>
<line x1="678.14" y1="371.50" x2="678.14" y2="365.50" stroke="#111" stroke-width="1.1" stroke-linecap="butt"/>
<line x1="683.60" y1="371.50" x2="683.60" y2="362.70" stroke="#111" stroke-width="1.4" stroke-linecap="butt"/>
<line x1="689.14" y1="371.50" x2="689.14" y2="365.50" stroke="#111" stroke-width="1.1" stroke-linecap="butt"/>
<line x1="694.68" y1="371.50" x2="694.68" y2="365.50" stroke="#111" stroke-width="1.1" stroke-linecap="butt"/>
<line x1="700.22" y1="371.50" x2="700.22" y2="365.50" stroke="#111" stroke-width="1.1" stroke-linecap="butt"/>
<line x1="705.76" y1="371.50" x2="705.76" y2="365.50" stroke="#111" stroke-width="1.1" stroke-linecap="butt"/>
<line x1="711.30" y1="371.50" x2="711.30" y2="362.70" stroke="#111" stroke-width="1.4" stroke-linecap="butt"/>
<line x1="716.84" y1="371.50" x2="716.84" y2="365.50" stroke="#111" stroke-width="1.1" stroke-linecap="butt"/>
<line x1="722.38" y1="371.50" x2="722.38" y2="365.50" stroke="#111" stroke-width="1.1" stroke-linecap="butt"/>
<line x1="727.92" y1="371.50" x2="727.92" y2="365.50" stroke="#111" stroke-width="1.1" stroke-linecap="butt"/>
<line x1="733.46" y1="371.50" x2="733.46" y2="365.50" stroke="#111" stroke-width="1.1" stroke-linecap="butt"/>
<line x1="739.00" y1="371.50" x2="739.00" y2="362.70" stroke="#111" stroke-width="1.4" stroke-linecap="butt"/>
<line x1="745.06" y1="371.50" x2="745.06" y2="365.50" stroke="#111" stroke-width="1.1" stroke-linecap="butt"/>
<line x1="751.12" y1="371.50" x2="751.12" y2="365.50" stroke="#111" stroke-width="1.1" stroke-linecap="butt"/>
<line x1="757.18" y1="371.50" x2="757.18" y2="365.50" stroke="#111" stroke-width="1.1" stroke-linecap="butt"/>
<line x1="763.24" y1="371.50" x2="763.24" y2="365.50" stroke="#111" stroke-width="1.1" stroke-linecap="butt"/>
<line x1="769.30" y1="371.50" x2="769.30" y2="362.50" stroke="#111" stroke-width="1.5" stroke-linecap="butt"/>
<text x="405.50" y="123.60" font-family='"Liberation Serif", serif' font-weight="normal" font-size="15.45" fill="#111" textLength="17.50" lengthAdjust="spacingAndGlyphs" stroke="#111" stroke-width="0.15">20.4</text>
<text x="406.10" y="180.20" font-family='"Liberation Serif", serif' font-weight="normal" font-size="15.45" fill="#111" textLength="16.60" lengthAdjust="spacingAndGlyphs" stroke="#111" stroke-width="0.15">15.3</text>
<text x="406.40" y="237.30" font-family='"Liberation Serif", serif' font-weight="normal" font-size="15.45" fill="#111" textLength="16.60" lengthAdjust="spacingAndGlyphs" stroke="#111" stroke-width="0.15">10.2</text>
<text x="413.60" y="290.10" font-family='"Liberation Serif", serif' font-weight="normal" font-size="15.45" fill="#111" textLength="11.70" lengthAdjust="spacingAndGlyphs" stroke="#111" stroke-width="0.15">5.1</text>
<text x="423.10" y="348.55" font-family='"Liberation Serif", serif' font-weight="normal" font-size="17.42" fill="#111" textLength="5.20" lengthAdjust="spacingAndGlyphs" stroke="#111" stroke-width="0.15">0</text>
<text x="447.00" y="123.60" font-family='"Liberation Serif", serif' font-weight="normal" font-size="15.45" fill="#111" textLength="14.00" lengthAdjust="spacingAndGlyphs" stroke="#111" stroke-width="0.15">200</text>
<text x="448.00" y="180.10" font-family='"Liberation Serif", serif' font-weight="normal" font-size="15.45" fill="#111" textLength="15.00" lengthAdjust="spacingAndGlyphs" stroke="#111" stroke-width="0.15">150</text>
<text x="449.00" y="236.60" font-family='"Liberation Serif", serif' font-weight="normal" font-size="15.45" fill="#111" textLength="14.00" lengthAdjust="spacingAndGlyphs" stroke="#111" stroke-width="0.15">100</text>
<text x="454.50" y="294.80" font-family='"Liberation Serif", serif' font-weight="normal" font-size="15.45" fill="#111" textLength="10.50" lengthAdjust="spacingAndGlyphs" stroke="#111" stroke-width="0.15">50</text>
<text x="458.20" y="348.55" font-family='"Liberation Serif", serif' font-weight="normal" font-size="17.42" fill="#111" textLength="5.10" lengthAdjust="spacingAndGlyphs" stroke="#111" stroke-width="0.15">0</text>
<text x="464.95" y="359.00" font-family='"Liberation Serif", serif' font-weight="normal" font-size="15.15" fill="#111" textLength="14.70" lengthAdjust="spacingAndGlyphs" stroke="#111" stroke-width="0.15">200</text>
<text x="512.35" y="359.00" font-family='"Liberation Serif", serif' font-weight="normal" font-size="15.15" fill="#111" textLength="14.70" lengthAdjust="spacingAndGlyphs" stroke="#111" stroke-width="0.15">300</text>
<text x="566.65" y="359.00" font-family='"Liberation Serif", serif' font-weight="normal" font-size="15.15" fill="#111" textLength="14.70" lengthAdjust="spacingAndGlyphs" stroke="#111" stroke-width="0.15">400</text>
<text x="621.65" y="359.00" font-family='"Liberation Serif", serif' font-weight="normal" font-size="15.15" fill="#111" textLength="14.70" lengthAdjust="spacingAndGlyphs" stroke="#111" stroke-width="0.15">500</text>
<text x="676.85" y="359.00" font-family='"Liberation Serif", serif' font-weight="normal" font-size="15.15" fill="#111" textLength="14.70" lengthAdjust="spacingAndGlyphs" stroke="#111" stroke-width="0.15">600</text>
<text x="732.95" y="359.00" font-family='"Liberation Serif", serif' font-weight="normal" font-size="15.15" fill="#111" textLength="14.70" lengthAdjust="spacingAndGlyphs" stroke="#111" stroke-width="0.15">700</text>
<text x="461.55" y="385.00" font-family='"Liberation Serif", serif' font-weight="normal" font-size="15.15" fill="#111" textLength="13.50" lengthAdjust="spacingAndGlyphs" stroke="#111" stroke-width="0.15">118</text>
<text x="513.55" y="385.00" font-family='"Liberation Serif", serif' font-weight="normal" font-size="15.15" fill="#111" textLength="13.50" lengthAdjust="spacingAndGlyphs" stroke="#111" stroke-width="0.15">177</text>
<text x="568.75" y="385.00" font-family='"Liberation Serif", serif' font-weight="normal" font-size="15.15" fill="#111" textLength="13.50" lengthAdjust="spacingAndGlyphs" stroke="#111" stroke-width="0.15">236</text>
<text x="622.85" y="385.00" font-family='"Liberation Serif", serif' font-weight="normal" font-size="15.15" fill="#111" textLength="13.50" lengthAdjust="spacingAndGlyphs" stroke="#111" stroke-width="0.15">295</text>
<text x="677.95" y="385.00" font-family='"Liberation Serif", serif' font-weight="normal" font-size="15.15" fill="#111" textLength="13.50" lengthAdjust="spacingAndGlyphs" stroke="#111" stroke-width="0.15">355</text>
<text x="733.25" y="385.00" font-family='"Liberation Serif", serif' font-weight="normal" font-size="15.15" fill="#111" textLength="13.50" lengthAdjust="spacingAndGlyphs" stroke="#111" stroke-width="0.15">414</text>
<text x="782.00" y="358.70" font-family='"Liberation Serif", serif' font-weight="normal" font-size="21.96" fill="#111" textLength="10.00" lengthAdjust="spacingAndGlyphs" stroke="#111" stroke-width="0.15">m</text>
<text x="792.30" y="348.60" font-family='"Liberation Serif", serif' font-weight="normal" font-size="7.40" fill="#111" textLength="3.70" lengthAdjust="spacingAndGlyphs" stroke="#111" stroke-width="0.15">3</text>
<line x1="802.80" y1="343.40" x2="797.60" y2="360.60" stroke="#111" stroke-width="1.3" stroke-linecap="butt"/>
<text x="803.60" y="358.70" font-family='"Liberation Serif", serif' font-weight="normal" font-size="18.16" fill="#111" textLength="6.70" lengthAdjust="spacingAndGlyphs" stroke="#111" stroke-width="0.15">h</text>
<text x="781.60" y="384.60" font-family='"Liberation Serif", serif' font-weight="normal" font-size="20.09" fill="#111" textLength="20.90" lengthAdjust="spacingAndGlyphs" stroke="#111" stroke-width="0.15">CFM</text>
<path d="M500.0,163.6 C501.6,166.6 506.0,175.7 509.5,181.8 C513.0,187.9 516.7,194.3 520.9,200.0 C525.1,205.7 529.6,211.0 534.5,215.9 C539.4,220.8 545.2,225.3 550.5,229.5 C555.8,233.7 561.5,238.1 566.4,240.9 C571.3,243.8 575.3,245.1 580.0,246.6 C584.7,248.1 591.0,249.3 594.8,250.0 C598.6,250.7 599.9,249.9 602.7,250.5 C605.5,251.1 608.9,252.8 611.8,253.4 C614.7,254.0 617.1,253.8 620.0,254.1 C622.9,254.4 626.6,254.7 629.4,255.2 C632.2,255.7 632.4,255.0 636.8,257.3 C641.2,259.6 647.9,264.4 655.6,268.8 C663.3,273.2 676.8,280.4 682.9,283.5 C689.0,286.6 689.5,285.9 692.3,287.7 C695.1,289.4 696.4,290.7 699.7,294.0 C703.0,297.3 708.0,302.7 712.2,307.6 C716.4,312.5 719.9,317.7 724.8,323.3 C729.7,328.9 738.8,338.1 741.6,341.1" fill="none" stroke="#000" stroke-width="2" stroke-linejoin="round"/>
<circle cx="602.7" cy="250" r="8.2" fill="#000"/>
<text x="599.70" y="255.50" font-family='"Liberation Serif", serif' font-weight="normal" font-size="16.67" fill="#fff" textLength="6.00" lengthAdjust="spacingAndGlyphs" stroke="#fff" stroke-width="0.15">3</text>
<rect x="31.3" y="476.5" width="857.6" height="19.30000000000001" fill="#c0c0c0"/>
<rect x="31.3" y="530" width="857.6" height="17.299999999999955" fill="#c0c0c0"/>
<line x1="242.60" y1="432.30" x2="242.60" y2="566.80" stroke="#3a3a3a" stroke-width="1.3" stroke-linecap="butt"/>
<line x1="306.40" y1="432.30" x2="306.40" y2="566.80" stroke="#3a3a3a" stroke-width="1.3" stroke-linecap="butt"/>
<line x1="359.90" y1="432.30" x2="359.90" y2="566.80" stroke="#3a3a3a" stroke-width="1.3" stroke-linecap="butt"/>
<line x1="413.60" y1="432.30" x2="413.60" y2="566.80" stroke="#3a3a3a" stroke-width="1.3" stroke-linecap="butt"/>
<line x1="469.10" y1="432.30" x2="469.10" y2="566.80" stroke="#3a3a3a" stroke-width="1.3" stroke-linecap="butt"/>
<line x1="535.80" y1="432.30" x2="535.80" y2="566.80" stroke="#3a3a3a" stroke-width="1.3" stroke-linecap="butt"/>
<line x1="596.40" y1="432.30" x2="596.40" y2="566.80" stroke="#3a3a3a" stroke-width="1.3" stroke-linecap="butt"/>
<line x1="717.50" y1="432.30" x2="717.50" y2="566.80" stroke="#3a3a3a" stroke-width="1.3" stroke-linecap="butt"/>
<line x1="772.20" y1="432.30" x2="772.20" y2="566.80" stroke="#3a3a3a" stroke-width="1.3" stroke-linecap="butt"/>
<line x1="837.30" y1="432.30" x2="837.30" y2="566.80" stroke="#3a3a3a" stroke-width="1.3" stroke-linecap="butt"/>
<line x1="31.30" y1="476.50" x2="888.90" y2="476.50" stroke="#3a3a3a" stroke-width="2.2" stroke-linecap="butt"/>
<rect x="31.3" y="432.3" width="857.6" height="134.49999999999994" fill="none" stroke="#3a3a3a" stroke-width="2.2"/>
<text x="42.70" y="459.50" font-family='"Liberation Sans", sans-serif' font-weight="bold" font-size="13.97" fill="#333" textLength="42.60" lengthAdjust="spacingAndGlyphs" stroke="#333" stroke-width="0.35">Модель</text>
<text x="268.50" y="450.25" font-family='"Liberation Sans", sans-serif' font-weight="bold" font-size="14.66" fill="#333" textLength="12.00" lengthAdjust="spacingAndGlyphs" stroke="#333" stroke-width="0.35">№</text>
<text x="250.25" y="463.70" font-family='"Liberation Sans", sans-serif' font-weight="bold" font-size="13.13" fill="#333" textLength="48.50" lengthAdjust="spacingAndGlyphs" stroke="#333" stroke-width="0.35">Графика</text>
<text x="315.15" y="445.70" font-family='"Liberation Sans", sans-serif' font-weight="bold" font-size="13.13" fill="#333" textLength="36.00" lengthAdjust="spacingAndGlyphs" stroke="#333" stroke-width="0.35">Напря-</text>
<text x="313.95" y="457.70" font-family='"Liberation Sans", sans-serif' font-weight="bold" font-size="13.13" fill="#333" textLength="38.40" lengthAdjust="spacingAndGlyphs" stroke="#333" stroke-width="0.35">жение,</text>
<text x="328.90" y="469.70" font-family='"Liberation Sans", sans-serif' font-weight="bold" font-size="13.13" fill="#333" textLength="8.50" lengthAdjust="spacingAndGlyphs" stroke="#333" stroke-width="0.35">В</text>
<text x="363.00" y="453.70" font-family='"Liberation Sans", sans-serif' font-weight="bold" font-size="13.13" fill="#333" textLength="47.50" lengthAdjust="spacingAndGlyphs" stroke="#333" stroke-width="0.35">Частота,</text>
<text x="379.50" y="465.70" font-family='"Liberation Sans", sans-serif' font-weight="bold" font-size="13.13" fill="#333" textLength="14.50" lengthAdjust="spacingAndGlyphs" stroke="#333" stroke-width="0.35">Гц</text>
<text x="429.85" y="453.70" font-family='"Liberation Sans", sans-serif' font-weight="bold" font-size="13.13" fill="#333" textLength="23.00" lengthAdjust="spacingAndGlyphs" stroke="#333" stroke-width="0.35">Ток,</text>
<text x="437.10" y="465.70" font-family='"Liberation Sans", sans-serif' font-weight="bold" font-size="13.13" fill="#333" textLength="8.50" lengthAdjust="spacingAndGlyphs" stroke="#333" stroke-width="0.35">А</text>
<text x="472.45" y="452.20" font-family='"Liberation Sans", sans-serif' font-weight="bold" font-size="13.13" fill="#333" textLength="60.00" lengthAdjust="spacingAndGlyphs" stroke="#333" stroke-width="0.35">Мощность,</text>
<text x="495.20" y="464.40" font-family='"Liberation Sans", sans-serif' font-weight="bold" font-size="13.13" fill="#333" textLength="14.50" lengthAdjust="spacingAndGlyphs" stroke="#333" stroke-width="0.35">Вт</text>
<text x="550.85" y="445.70" font-family='"Liberation Sans", sans-serif' font-weight="bold" font-size="13.13" fill="#333" textLength="30.50" lengthAdjust="spacingAndGlyphs" stroke="#333" stroke-width="0.35">Число</text>
<text x="539.10" y="458.70" font-family='"Liberation Sans", sans-serif' font-weight="bold" font-size="13.13" fill="#333" textLength="54.00" lengthAdjust="spacingAndGlyphs" stroke="#333" stroke-width="0.35">оборотов,</text>
<text x="546.60" y="470.70" font-family='"Liberation Sans", sans-serif' font-weight="bold" font-size="13.13" fill="#333" textLength="39.00" lengthAdjust="spacingAndGlyphs" stroke="#333" stroke-width="0.35">об/мин</text>
<text x="635.25" y="445.70" font-family='"Liberation Sans", sans-serif' font-weight="bold" font-size="13.13" fill="#333" textLength="43.40" lengthAdjust="spacingAndGlyphs" stroke="#333" stroke-width="0.35">Уровень</text>
<text x="599.15" y="458.70" font-family='"Liberation Sans", sans-serif' font-weight="bold" font-size="13.13" fill="#333" textLength="115.60" lengthAdjust="spacingAndGlyphs" stroke="#333" stroke-width="0.35">звуковой мощности,</text>
<text x="641.95" y="470.70" font-family='"Liberation Sans", sans-serif' font-weight="bold" font-size="13.13" fill="#333" textLength="30.00" lengthAdjust="spacingAndGlyphs" stroke="#333" stroke-width="0.35">дБ(А)</text>
<text x="724.85" y="446.40" font-family='"Liberation Sans", sans-serif' font-weight="bold" font-size="13.13" fill="#333" textLength="40.00" lengthAdjust="spacingAndGlyphs" stroke="#333" stroke-width="0.35">Расход</text>
<text x="721.35" y="458.60" font-family='"Liberation Sans", sans-serif' font-weight="bold" font-size="13.13" fill="#333" textLength="47.00" lengthAdjust="spacingAndGlyphs" stroke="#333" stroke-width="0.35">воздуха,</text>
<text x="734.35" y="470.70" font-family='"Liberation Sans", sans-serif' font-weight="bold" font-size="13.13" fill="#333" textLength="21.00" lengthAdjust="spacingAndGlyphs" stroke="#333" stroke-width="0.35">м³/ч</text>
<text x="776.40" y="453.00" font-family='"Liberation Sans", sans-serif' font-weight="bold" font-size="13.13" fill="#333" textLength="56.70" lengthAdjust="spacingAndGlyphs" stroke="#333" stroke-width="0.35">Давление,</text>
<text x="797.50" y="465.30" font-family='"Liberation Sans", sans-serif' font-weight="bold" font-size="13.13" fill="#333" textLength="14.50" lengthAdjust="spacingAndGlyphs" stroke="#333" stroke-width="0.35">Па</text>
<text x="851.75" y="453.00" font-family='"Liberation Sans", sans-serif' font-weight="bold" font-size="13.13" fill="#333" textLength="22.70" lengthAdjust="spacingAndGlyphs" stroke="#333" stroke-width="0.35">Вес,</text>
<text x="856.35" y="465.30" font-family='"Liberation Sans", sans-serif' font-weight="bold" font-size="13.13" fill="#333" textLength="13.50" lengthAdjust="spacingAndGlyphs" stroke="#333" stroke-width="0.35">кг</text>
<text x="41.70" y="492.55" font-family='"Liberation Sans", sans-serif' font-weight="bold" font-size="13.55" fill="#383838" textLength="89.60" lengthAdjust="spacingAndGlyphs">...4D-200-E5Z</text>
<text x="270.87" y="493.10" font-family='"Liberation Sans", sans-serif' font-weight="normal" font-size="15.08" fill="#3c3c3c" textLength="7.27" lengthAdjust="spacingAndGlyphs">1</text>
<text x="322.25" y="493.10" font-family='"Liberation Sans", sans-serif' font-weight="normal" font-size="15.08" fill="#3c3c3c" textLength="21.81" lengthAdjust="spacingAndGlyphs">380</text>
<text x="379.48" y="493.10" font-family='"Liberation Sans", sans-serif' font-weight="normal" font-size="15.08" fill="#3c3c3c" textLength="14.54" lengthAdjust="spacingAndGlyphs">50</text>
<text x="428.65" y="493.10" font-family='"Liberation Sans", sans-serif' font-weight="normal" font-size="15.08" fill="#3c3c3c" textLength="25.41" lengthAdjust="spacingAndGlyphs">0.15</text>
<text x="495.18" y="493.10" font-family='"Liberation Sans", sans-serif' font-weight="normal" font-size="15.08" fill="#3c3c3c" textLength="14.54" lengthAdjust="spacingAndGlyphs">30</text>
<text x="551.56" y="493.10" font-family='"Liberation Sans", sans-serif' font-weight="normal" font-size="15.08" fill="#3c3c3c" textLength="29.08" lengthAdjust="spacingAndGlyphs">1450</text>
<text x="649.68" y="493.10" font-family='"Liberation Sans", sans-serif' font-weight="normal" font-size="15.08" fill="#3c3c3c" textLength="14.54" lengthAdjust="spacingAndGlyphs">50</text>
<text x="733.95" y="493.10" font-family='"Liberation Sans", sans-serif' font-weight="normal" font-size="15.08" fill="#3c3c3c" textLength="21.81" lengthAdjust="spacingAndGlyphs">385</text>
<text x="797.48" y="493.10" font-family='"Liberation Sans", sans-serif' font-weight="normal" font-size="15.08" fill="#3c3c3c" textLength="14.54" lengthAdjust="spacingAndGlyphs">30</text>
<text x="854.03" y="493.10" font-family='"Liberation Sans", sans-serif' font-weight="normal" font-size="15.08" fill="#3c3c3c" textLength="18.14" lengthAdjust="spacingAndGlyphs">2.0</text>
<text x="41.70" y="510.05" font-family='"Liberation Sans", sans-serif' font-weight="bold" font-size="13.55" fill="#383838" textLength="89.60" lengthAdjust="spacingAndGlyphs">...4E-200-E5Z</text>
<text x="270.87" y="510.60" font-family='"Liberation Sans", sans-serif' font-weight="normal" font-size="15.08" fill="#3c3c3c" textLength="7.27" lengthAdjust="spacingAndGlyphs">1</text>
<text x="322.25" y="510.60" font-family='"Liberation Sans", sans-serif' font-weight="normal" font-size="15.08" fill="#3c3c3c" textLength="21.81" lengthAdjust="spacingAndGlyphs">220</text>
<text x="379.48" y="510.60" font-family='"Liberation Sans", sans-serif' font-weight="normal" font-size="15.08" fill="#3c3c3c" textLength="14.54" lengthAdjust="spacingAndGlyphs">50</text>
<text x="428.65" y="510.60" font-family='"Liberation Sans", sans-serif' font-weight="normal" font-size="15.08" fill="#3c3c3c" textLength="25.41" lengthAdjust="spacingAndGlyphs">0.11</text>
<text x="495.18" y="510.60" font-family='"Liberation Sans", sans-serif' font-weight="normal" font-size="15.08" fill="#3c3c3c" textLength="14.54" lengthAdjust="spacingAndGlyphs">22</text>
<text x="551.56" y="510.60" font-family='"Liberation Sans", sans-serif' font-weight="normal" font-size="15.08" fill="#3c3c3c" textLength="29.08" lengthAdjust="spacingAndGlyphs">1400</text>
<text x="649.68" y="510.60" font-family='"Liberation Sans", sans-serif' font-weight="normal" font-size="15.08" fill="#3c3c3c" textLength="14.54" lengthAdjust="spacingAndGlyphs">50</text>
<text x="733.95" y="510.60" font-family='"Liberation Sans", sans-serif' font-weight="normal" font-size="15.08" fill="#3c3c3c" textLength="21.81" lengthAdjust="spacingAndGlyphs">385</text>
<text x="797.48" y="510.60" font-family='"Liberation Sans", sans-serif' font-weight="normal" font-size="15.08" fill="#3c3c3c" textLength="14.54" lengthAdjust="spacingAndGlyphs">30</text>
<text x="854.03" y="510.60" font-family='"Liberation Sans", sans-serif' font-weight="normal" font-size="15.08" fill="#3c3c3c" textLength="18.14" lengthAdjust="spacingAndGlyphs">2.0</text>
<text x="270.87" y="527.80" font-family='"Liberation Sans", sans-serif' font-weight="normal" font-size="15.08" fill="#3c3c3c" textLength="7.27" lengthAdjust="spacingAndGlyphs">2</text>
<text x="322.25" y="527.80" font-family='"Liberation Sans", sans-serif' font-weight="normal" font-size="15.08" fill="#3c3c3c" textLength="21.81" lengthAdjust="spacingAndGlyphs">230</text>
<text x="379.48" y="527.80" font-family='"Liberation Sans", sans-serif' font-weight="normal" font-size="15.08" fill="#3c3c3c" textLength="14.54" lengthAdjust="spacingAndGlyphs">60</text>
<text x="428.65" y="527.80" font-family='"Liberation Sans", sans-serif' font-weight="normal" font-size="15.08" fill="#3c3c3c" textLength="25.41" lengthAdjust="spacingAndGlyphs">0.11</text>
<text x="495.18" y="527.80" font-family='"Liberation Sans", sans-serif' font-weight="normal" font-size="15.08" fill="#3c3c3c" textLength="14.54" lengthAdjust="spacingAndGlyphs">25</text>
<text x="551.56" y="527.80" font-family='"Liberation Sans", sans-serif' font-weight="normal" font-size="15.08" fill="#3c3c3c" textLength="29.08" lengthAdjust="spacingAndGlyphs">1700</text>
<text x="649.68" y="527.80" font-family='"Liberation Sans", sans-serif' font-weight="normal" font-size="15.08" fill="#3c3c3c" textLength="14.54" lengthAdjust="spacingAndGlyphs">52</text>
<text x="733.95" y="527.80" font-family='"Liberation Sans", sans-serif' font-weight="normal" font-size="15.08" fill="#3c3c3c" textLength="21.81" lengthAdjust="spacingAndGlyphs">405</text>
<text x="797.48" y="527.80" font-family='"Liberation Sans", sans-serif' font-weight="normal" font-size="15.08" fill="#3c3c3c" textLength="14.54" lengthAdjust="spacingAndGlyphs">40</text>
<text x="854.03" y="527.80" font-family='"Liberation Sans", sans-serif' font-weight="normal" font-size="15.08" fill="#3c3c3c" textLength="18.14" lengthAdjust="spacingAndGlyphs">2.0</text>
<text x="41.70" y="544.75" font-family='"Liberation Sans", sans-serif' font-weight="bold" font-size="13.55" fill="#383838" textLength="89.60" lengthAdjust="spacingAndGlyphs">...2D-200-E5Z</text>
<text x="270.87" y="545.30" font-family='"Liberation Sans", sans-serif' font-weight="normal" font-size="15.08" fill="#3c3c3c" textLength="7.27" lengthAdjust="spacingAndGlyphs">3</text>
<text x="322.25" y="545.30" font-family='"Liberation Sans", sans-serif' font-weight="normal" font-size="15.08" fill="#3c3c3c" textLength="21.81" lengthAdjust="spacingAndGlyphs">380</text>
<text x="379.48" y="545.30" font-family='"Liberation Sans", sans-serif' font-weight="normal" font-size="15.08" fill="#3c3c3c" textLength="14.54" lengthAdjust="spacingAndGlyphs">50</text>
<text x="428.65" y="545.30" font-family='"Liberation Sans", sans-serif' font-weight="normal" font-size="15.08" fill="#3c3c3c" textLength="25.41" lengthAdjust="spacingAndGlyphs">0.25</text>
<text x="495.18" y="545.30" font-family='"Liberation Sans", sans-serif' font-weight="normal" font-size="15.08" fill="#3c3c3c" textLength="14.54" lengthAdjust="spacingAndGlyphs">65</text>
<text x="551.56" y="545.30" font-family='"Liberation Sans", sans-serif' font-weight="normal" font-size="15.08" fill="#3c3c3c" textLength="29.08" lengthAdjust="spacingAndGlyphs">2500</text>
<text x="649.68" y="545.30" font-family='"Liberation Sans", sans-serif' font-weight="normal" font-size="15.08" fill="#3c3c3c" textLength="14.54" lengthAdjust="spacingAndGlyphs">65</text>
<text x="733.95" y="545.30" font-family='"Liberation Sans", sans-serif' font-weight="normal" font-size="15.08" fill="#3c3c3c" textLength="21.81" lengthAdjust="spacingAndGlyphs">710</text>
<text x="797.48" y="545.30" font-family='"Liberation Sans", sans-serif' font-weight="normal" font-size="15.08" fill="#3c3c3c" textLength="14.54" lengthAdjust="spacingAndGlyphs">80</text>
<text x="854.03" y="545.30" font-family='"Liberation Sans", sans-serif' font-weight="normal" font-size="15.08" fill="#3c3c3c" textLength="18.14" lengthAdjust="spacingAndGlyphs">2.0</text>
<text x="41.70" y="562.25" font-family='"Liberation Sans", sans-serif' font-weight="bold" font-size="13.55" fill="#383838" textLength="89.60" lengthAdjust="spacingAndGlyphs">...2E-200-E5Z</text>
<text x="270.87" y="562.80" font-family='"Liberation Sans", sans-serif' font-weight="normal" font-size="15.08" fill="#3c3c3c" textLength="7.27" lengthAdjust="spacingAndGlyphs">3</text>
<text x="322.25" y="562.80" font-family='"Liberation Sans", sans-serif' font-weight="normal" font-size="15.08" fill="#3c3c3c" textLength="21.81" lengthAdjust="spacingAndGlyphs">220</text>
<text x="379.48" y="562.80" font-family='"Liberation Sans", sans-serif' font-weight="normal" font-size="15.08" fill="#3c3c3c" textLength="14.54" lengthAdjust="spacingAndGlyphs">50</text>
<text x="428.65" y="562.80" font-family='"Liberation Sans", sans-serif' font-weight="normal" font-size="15.08" fill="#3c3c3c" textLength="25.41" lengthAdjust="spacingAndGlyphs">0.25</text>
<text x="495.18" y="562.80" font-family='"Liberation Sans", sans-serif' font-weight="normal" font-size="15.08" fill="#3c3c3c" textLength="14.54" lengthAdjust="spacingAndGlyphs">55</text>
<text x="551.56" y="562.80" font-family='"Liberation Sans", sans-serif' font-weight="normal" font-size="15.08" fill="#3c3c3c" textLength="29.08" lengthAdjust="spacingAndGlyphs">2680</text>
<text x="649.68" y="562.80" font-family='"Liberation Sans", sans-serif' font-weight="normal" font-size="15.08" fill="#3c3c3c" textLength="14.54" lengthAdjust="spacingAndGlyphs">65</text>
<text x="733.95" y="562.80" font-family='"Liberation Sans", sans-serif' font-weight="normal" font-size="15.08" fill="#3c3c3c" textLength="21.81" lengthAdjust="spacingAndGlyphs">710</text>
<text x="797.48" y="562.80" font-family='"Liberation Sans", sans-serif' font-weight="normal" font-size="15.08" fill="#3c3c3c" textLength="14.54" lengthAdjust="spacingAndGlyphs">80</text>
<text x="854.03" y="562.80" font-family='"Liberation Sans", sans-serif' font-weight="normal" font-size="15.08" fill="#3c3c3c" textLength="18.14" lengthAdjust="spacingAndGlyphs">2.0</text>
</svg></body></html>
